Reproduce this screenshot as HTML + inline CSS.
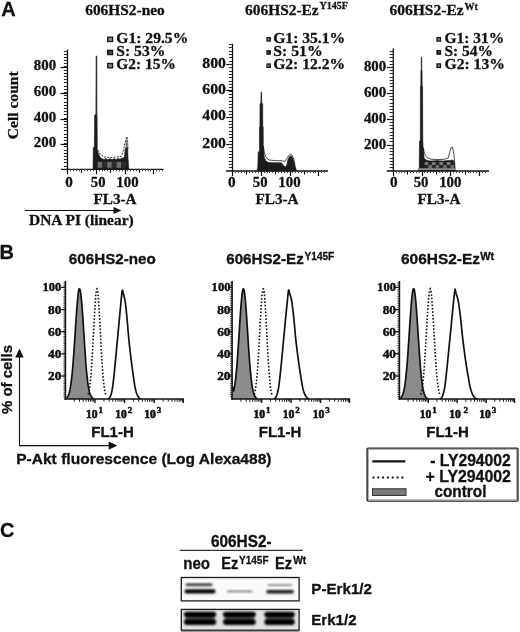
<!DOCTYPE html>
<html><head><meta charset="utf-8"><title>Figure</title>
<style>
html,body{margin:0;padding:0;background:#fff;}
svg{display:block;}
.se{font-family:"Liberation Serif", serif;font-weight:bold;fill:#111;stroke:#111;stroke-width:0.3px;}
.sa{font-family:"Liberation Sans", sans-serif;font-weight:bold;fill:#111;stroke:#111;stroke-width:0.3px;}
</style></head>
<body>
<svg width="520" height="632" viewBox="0 0 520 632">
<defs><filter id="bl" x="-10%" y="-50%" width="120%" height="200%"><feGaussianBlur stdDeviation="0.8"/></filter><filter id="bl2" x="-10%" y="-50%" width="120%" height="200%"><feGaussianBlur stdDeviation="1.2"/></filter></defs>
<rect x="0" y="0" width="520" height="632" fill="#ffffff"/>
<text class="sa" x="1.2" y="16.2" font-size="20">A</text>
<text class="sa" x="-0.6" y="259.4" font-size="20">B</text>
<text class="sa" x="0" y="536.5" font-size="20">C</text>
<line x1="67.5" y1="49.5" x2="67.5" y2="169.3" stroke="#111" stroke-width="1.3"/>
<line x1="61.0" y1="169.3" x2="163.5" y2="169.3" stroke="#111" stroke-width="1.3"/>
<line x1="60.5" y1="67.5" x2="67.5" y2="67.5" stroke="#111" stroke-width="1.2"/>
<text class="se" x="56.1" y="69.8" font-size="15.5" text-anchor="end" textLength="22.3" lengthAdjust="spacingAndGlyphs">800</text>
<line x1="60.5" y1="93.5" x2="67.5" y2="93.5" stroke="#111" stroke-width="1.2"/>
<text class="se" x="56.1" y="95.8" font-size="15.5" text-anchor="end" textLength="22.3" lengthAdjust="spacingAndGlyphs">600</text>
<line x1="60.5" y1="119.5" x2="67.5" y2="119.5" stroke="#111" stroke-width="1.2"/>
<text class="se" x="56.1" y="121.8" font-size="15.5" text-anchor="end" textLength="22.3" lengthAdjust="spacingAndGlyphs">400</text>
<line x1="60.5" y1="144.5" x2="67.5" y2="144.5" stroke="#111" stroke-width="1.2"/>
<text class="se" x="56.1" y="147.3" font-size="15.5" text-anchor="end" textLength="22.3" lengthAdjust="spacingAndGlyphs">200</text>
<line x1="63.9" y1="166.5" x2="67.5" y2="166.5" stroke="#2a2a2a" stroke-width="1"/>
<line x1="63.9" y1="162.5" x2="67.5" y2="162.5" stroke="#2a2a2a" stroke-width="1"/>
<line x1="63.9" y1="159.5" x2="67.5" y2="159.5" stroke="#2a2a2a" stroke-width="1"/>
<line x1="63.9" y1="156.5" x2="67.5" y2="156.5" stroke="#2a2a2a" stroke-width="1"/>
<line x1="63.9" y1="153.5" x2="67.5" y2="153.5" stroke="#2a2a2a" stroke-width="1"/>
<line x1="63.9" y1="150.5" x2="67.5" y2="150.5" stroke="#2a2a2a" stroke-width="1"/>
<line x1="63.9" y1="146.5" x2="67.5" y2="146.5" stroke="#2a2a2a" stroke-width="1"/>
<line x1="63.9" y1="143.5" x2="67.5" y2="143.5" stroke="#2a2a2a" stroke-width="1"/>
<line x1="63.9" y1="140.5" x2="67.5" y2="140.5" stroke="#2a2a2a" stroke-width="1"/>
<line x1="63.9" y1="137.5" x2="67.5" y2="137.5" stroke="#2a2a2a" stroke-width="1"/>
<line x1="63.9" y1="134.5" x2="67.5" y2="134.5" stroke="#2a2a2a" stroke-width="1"/>
<line x1="63.9" y1="130.5" x2="67.5" y2="130.5" stroke="#2a2a2a" stroke-width="1"/>
<line x1="63.9" y1="127.5" x2="67.5" y2="127.5" stroke="#2a2a2a" stroke-width="1"/>
<line x1="63.9" y1="124.5" x2="67.5" y2="124.5" stroke="#2a2a2a" stroke-width="1"/>
<line x1="63.9" y1="121.5" x2="67.5" y2="121.5" stroke="#2a2a2a" stroke-width="1"/>
<line x1="63.9" y1="118.5" x2="67.5" y2="118.5" stroke="#2a2a2a" stroke-width="1"/>
<line x1="63.9" y1="114.5" x2="67.5" y2="114.5" stroke="#2a2a2a" stroke-width="1"/>
<line x1="63.9" y1="111.5" x2="67.5" y2="111.5" stroke="#2a2a2a" stroke-width="1"/>
<line x1="63.9" y1="108.5" x2="67.5" y2="108.5" stroke="#2a2a2a" stroke-width="1"/>
<line x1="63.9" y1="105.5" x2="67.5" y2="105.5" stroke="#2a2a2a" stroke-width="1"/>
<line x1="63.9" y1="102.5" x2="67.5" y2="102.5" stroke="#2a2a2a" stroke-width="1"/>
<line x1="63.9" y1="98.5" x2="67.5" y2="98.5" stroke="#2a2a2a" stroke-width="1"/>
<line x1="63.9" y1="95.5" x2="67.5" y2="95.5" stroke="#2a2a2a" stroke-width="1"/>
<line x1="63.9" y1="92.5" x2="67.5" y2="92.5" stroke="#2a2a2a" stroke-width="1"/>
<line x1="63.9" y1="89.5" x2="67.5" y2="89.5" stroke="#2a2a2a" stroke-width="1"/>
<line x1="63.9" y1="86.5" x2="67.5" y2="86.5" stroke="#2a2a2a" stroke-width="1"/>
<line x1="63.9" y1="82.5" x2="67.5" y2="82.5" stroke="#2a2a2a" stroke-width="1"/>
<line x1="63.9" y1="79.5" x2="67.5" y2="79.5" stroke="#2a2a2a" stroke-width="1"/>
<line x1="63.9" y1="76.5" x2="67.5" y2="76.5" stroke="#2a2a2a" stroke-width="1"/>
<line x1="63.9" y1="73.5" x2="67.5" y2="73.5" stroke="#2a2a2a" stroke-width="1"/>
<line x1="63.9" y1="70.5" x2="67.5" y2="70.5" stroke="#2a2a2a" stroke-width="1"/>
<line x1="63.9" y1="66.5" x2="67.5" y2="66.5" stroke="#2a2a2a" stroke-width="1"/>
<line x1="63.9" y1="63.5" x2="67.5" y2="63.5" stroke="#2a2a2a" stroke-width="1"/>
<line x1="63.9" y1="60.5" x2="67.5" y2="60.5" stroke="#2a2a2a" stroke-width="1"/>
<line x1="63.9" y1="57.5" x2="67.5" y2="57.5" stroke="#2a2a2a" stroke-width="1"/>
<line x1="63.9" y1="54.5" x2="67.5" y2="54.5" stroke="#2a2a2a" stroke-width="1"/>
<line x1="63.9" y1="51.5" x2="67.5" y2="51.5" stroke="#2a2a2a" stroke-width="1"/>
<line x1="67.5" y1="169.3" x2="67.5" y2="174.3" stroke="#111" stroke-width="1.2"/>
<line x1="70.5" y1="169.3" x2="70.5" y2="171.3" stroke="#4a4a4a" stroke-width="1"/>
<line x1="73.5" y1="169.3" x2="73.5" y2="171.3" stroke="#4a4a4a" stroke-width="1"/>
<line x1="76.5" y1="169.3" x2="76.5" y2="171.3" stroke="#4a4a4a" stroke-width="1"/>
<line x1="79.5" y1="169.3" x2="79.5" y2="171.3" stroke="#4a4a4a" stroke-width="1"/>
<line x1="81.5" y1="169.3" x2="81.5" y2="172.9" stroke="#111" stroke-width="1.1"/>
<line x1="84.5" y1="169.3" x2="84.5" y2="171.3" stroke="#4a4a4a" stroke-width="1"/>
<line x1="87.5" y1="169.3" x2="87.5" y2="171.3" stroke="#4a4a4a" stroke-width="1"/>
<line x1="90.5" y1="169.3" x2="90.5" y2="171.3" stroke="#4a4a4a" stroke-width="1"/>
<line x1="93.5" y1="169.3" x2="93.5" y2="171.3" stroke="#4a4a4a" stroke-width="1"/>
<line x1="96.5" y1="169.3" x2="96.5" y2="174.3" stroke="#111" stroke-width="1.2"/>
<line x1="99.5" y1="169.3" x2="99.5" y2="171.3" stroke="#4a4a4a" stroke-width="1"/>
<line x1="102.5" y1="169.3" x2="102.5" y2="171.3" stroke="#4a4a4a" stroke-width="1"/>
<line x1="104.5" y1="169.3" x2="104.5" y2="171.3" stroke="#4a4a4a" stroke-width="1"/>
<line x1="107.5" y1="169.3" x2="107.5" y2="171.3" stroke="#4a4a4a" stroke-width="1"/>
<line x1="110.5" y1="169.3" x2="110.5" y2="172.9" stroke="#111" stroke-width="1.1"/>
<line x1="113.5" y1="169.3" x2="113.5" y2="171.3" stroke="#4a4a4a" stroke-width="1"/>
<line x1="116.5" y1="169.3" x2="116.5" y2="171.3" stroke="#4a4a4a" stroke-width="1"/>
<line x1="119.5" y1="169.3" x2="119.5" y2="171.3" stroke="#4a4a4a" stroke-width="1"/>
<line x1="122.5" y1="169.3" x2="122.5" y2="171.3" stroke="#4a4a4a" stroke-width="1"/>
<line x1="125.5" y1="169.3" x2="125.5" y2="174.3" stroke="#111" stroke-width="1.2"/>
<line x1="127.5" y1="169.3" x2="127.5" y2="171.3" stroke="#4a4a4a" stroke-width="1"/>
<line x1="130.5" y1="169.3" x2="130.5" y2="171.3" stroke="#4a4a4a" stroke-width="1"/>
<line x1="133.5" y1="169.3" x2="133.5" y2="171.3" stroke="#4a4a4a" stroke-width="1"/>
<line x1="136.5" y1="169.3" x2="136.5" y2="171.3" stroke="#4a4a4a" stroke-width="1"/>
<line x1="139.5" y1="169.3" x2="139.5" y2="172.9" stroke="#111" stroke-width="1.1"/>
<line x1="142.5" y1="169.3" x2="142.5" y2="171.3" stroke="#4a4a4a" stroke-width="1"/>
<line x1="145.5" y1="169.3" x2="145.5" y2="171.3" stroke="#4a4a4a" stroke-width="1"/>
<line x1="148.5" y1="169.3" x2="148.5" y2="171.3" stroke="#4a4a4a" stroke-width="1"/>
<line x1="150.5" y1="169.3" x2="150.5" y2="171.3" stroke="#4a4a4a" stroke-width="1"/>
<line x1="153.5" y1="169.3" x2="153.5" y2="174.3" stroke="#111" stroke-width="1.2"/>
<line x1="156.5" y1="169.3" x2="156.5" y2="171.3" stroke="#4a4a4a" stroke-width="1"/>
<line x1="159.5" y1="169.3" x2="159.5" y2="171.3" stroke="#4a4a4a" stroke-width="1"/>
<line x1="162.5" y1="169.3" x2="162.5" y2="171.3" stroke="#4a4a4a" stroke-width="1"/>
<text class="se" x="69.0" y="187.3" font-size="15.5" text-anchor="middle" textLength="7.6" lengthAdjust="spacingAndGlyphs">0</text>
<text class="se" x="98.15" y="187.3" font-size="15.5" text-anchor="middle" textLength="14.7" lengthAdjust="spacingAndGlyphs">50</text>
<text class="se" x="127.5" y="187.3" font-size="15.5" text-anchor="middle" textLength="22.3" lengthAdjust="spacingAndGlyphs">100</text>
<text class="se" x="93.5" y="204.1" font-size="15.5" textLength="43" lengthAdjust="spacingAndGlyphs">FL3-A</text>
<line x1="232.5" y1="43.75" x2="232.5" y2="171" stroke="#111" stroke-width="1.3"/>
<line x1="226.0" y1="171" x2="328" y2="171" stroke="#111" stroke-width="1.3"/>
<line x1="226.2" y1="64.5" x2="232.5" y2="64.5" stroke="#111" stroke-width="1.2"/>
<text class="se" x="226.0" y="67.9" font-size="15.5" text-anchor="end" textLength="23.7" lengthAdjust="spacingAndGlyphs">800</text>
<line x1="226.2" y1="90.5" x2="232.5" y2="90.5" stroke="#111" stroke-width="1.2"/>
<text class="se" x="226.0" y="93.9" font-size="15.5" text-anchor="end" textLength="23.7" lengthAdjust="spacingAndGlyphs">600</text>
<line x1="226.2" y1="117.5" x2="232.5" y2="117.5" stroke="#111" stroke-width="1.2"/>
<text class="se" x="226.0" y="120.4" font-size="15.5" text-anchor="end" textLength="23.7" lengthAdjust="spacingAndGlyphs">400</text>
<line x1="226.2" y1="144.5" x2="232.5" y2="144.5" stroke="#111" stroke-width="1.2"/>
<text class="se" x="226.0" y="147.9" font-size="15.5" text-anchor="end" textLength="23.7" lengthAdjust="spacingAndGlyphs">200</text>
<line x1="228.9" y1="167.5" x2="232.5" y2="167.5" stroke="#2a2a2a" stroke-width="1"/>
<line x1="228.9" y1="164.5" x2="232.5" y2="164.5" stroke="#2a2a2a" stroke-width="1"/>
<line x1="228.9" y1="161.5" x2="232.5" y2="161.5" stroke="#2a2a2a" stroke-width="1"/>
<line x1="228.9" y1="157.5" x2="232.5" y2="157.5" stroke="#2a2a2a" stroke-width="1"/>
<line x1="228.9" y1="154.5" x2="232.5" y2="154.5" stroke="#2a2a2a" stroke-width="1"/>
<line x1="228.9" y1="151.5" x2="232.5" y2="151.5" stroke="#2a2a2a" stroke-width="1"/>
<line x1="228.9" y1="147.5" x2="232.5" y2="147.5" stroke="#2a2a2a" stroke-width="1"/>
<line x1="228.9" y1="144.5" x2="232.5" y2="144.5" stroke="#2a2a2a" stroke-width="1"/>
<line x1="228.9" y1="141.5" x2="232.5" y2="141.5" stroke="#2a2a2a" stroke-width="1"/>
<line x1="228.9" y1="137.5" x2="232.5" y2="137.5" stroke="#2a2a2a" stroke-width="1"/>
<line x1="228.9" y1="134.5" x2="232.5" y2="134.5" stroke="#2a2a2a" stroke-width="1"/>
<line x1="228.9" y1="131.5" x2="232.5" y2="131.5" stroke="#2a2a2a" stroke-width="1"/>
<line x1="228.9" y1="127.5" x2="232.5" y2="127.5" stroke="#2a2a2a" stroke-width="1"/>
<line x1="228.9" y1="124.5" x2="232.5" y2="124.5" stroke="#2a2a2a" stroke-width="1"/>
<line x1="228.9" y1="121.5" x2="232.5" y2="121.5" stroke="#2a2a2a" stroke-width="1"/>
<line x1="228.9" y1="117.5" x2="232.5" y2="117.5" stroke="#2a2a2a" stroke-width="1"/>
<line x1="228.9" y1="114.5" x2="232.5" y2="114.5" stroke="#2a2a2a" stroke-width="1"/>
<line x1="228.9" y1="111.5" x2="232.5" y2="111.5" stroke="#2a2a2a" stroke-width="1"/>
<line x1="228.9" y1="107.5" x2="232.5" y2="107.5" stroke="#2a2a2a" stroke-width="1"/>
<line x1="228.9" y1="104.5" x2="232.5" y2="104.5" stroke="#2a2a2a" stroke-width="1"/>
<line x1="228.9" y1="101.5" x2="232.5" y2="101.5" stroke="#2a2a2a" stroke-width="1"/>
<line x1="228.9" y1="97.5" x2="232.5" y2="97.5" stroke="#2a2a2a" stroke-width="1"/>
<line x1="228.9" y1="94.5" x2="232.5" y2="94.5" stroke="#2a2a2a" stroke-width="1"/>
<line x1="228.9" y1="91.5" x2="232.5" y2="91.5" stroke="#2a2a2a" stroke-width="1"/>
<line x1="228.9" y1="87.5" x2="232.5" y2="87.5" stroke="#2a2a2a" stroke-width="1"/>
<line x1="228.9" y1="84.5" x2="232.5" y2="84.5" stroke="#2a2a2a" stroke-width="1"/>
<line x1="228.9" y1="81.5" x2="232.5" y2="81.5" stroke="#2a2a2a" stroke-width="1"/>
<line x1="228.9" y1="77.5" x2="232.5" y2="77.5" stroke="#2a2a2a" stroke-width="1"/>
<line x1="228.9" y1="74.5" x2="232.5" y2="74.5" stroke="#2a2a2a" stroke-width="1"/>
<line x1="228.9" y1="71.5" x2="232.5" y2="71.5" stroke="#2a2a2a" stroke-width="1"/>
<line x1="228.9" y1="67.5" x2="232.5" y2="67.5" stroke="#2a2a2a" stroke-width="1"/>
<line x1="228.9" y1="64.5" x2="232.5" y2="64.5" stroke="#2a2a2a" stroke-width="1"/>
<line x1="228.9" y1="61.5" x2="232.5" y2="61.5" stroke="#2a2a2a" stroke-width="1"/>
<line x1="228.9" y1="57.5" x2="232.5" y2="57.5" stroke="#2a2a2a" stroke-width="1"/>
<line x1="228.9" y1="54.5" x2="232.5" y2="54.5" stroke="#2a2a2a" stroke-width="1"/>
<line x1="228.9" y1="51.5" x2="232.5" y2="51.5" stroke="#2a2a2a" stroke-width="1"/>
<line x1="228.9" y1="47.5" x2="232.5" y2="47.5" stroke="#2a2a2a" stroke-width="1"/>
<line x1="228.9" y1="44.5" x2="232.5" y2="44.5" stroke="#2a2a2a" stroke-width="1"/>
<line x1="232.5" y1="171" x2="232.5" y2="176" stroke="#111" stroke-width="1.2"/>
<line x1="235.5" y1="171" x2="235.5" y2="173.0" stroke="#4a4a4a" stroke-width="1"/>
<line x1="238.5" y1="171" x2="238.5" y2="173.0" stroke="#4a4a4a" stroke-width="1"/>
<line x1="241.5" y1="171" x2="241.5" y2="173.0" stroke="#4a4a4a" stroke-width="1"/>
<line x1="244.5" y1="171" x2="244.5" y2="173.0" stroke="#4a4a4a" stroke-width="1"/>
<line x1="246.5" y1="171" x2="246.5" y2="174.6" stroke="#111" stroke-width="1.1"/>
<line x1="249.5" y1="171" x2="249.5" y2="173.0" stroke="#4a4a4a" stroke-width="1"/>
<line x1="252.5" y1="171" x2="252.5" y2="173.0" stroke="#4a4a4a" stroke-width="1"/>
<line x1="255.5" y1="171" x2="255.5" y2="173.0" stroke="#4a4a4a" stroke-width="1"/>
<line x1="258.5" y1="171" x2="258.5" y2="173.0" stroke="#4a4a4a" stroke-width="1"/>
<line x1="261.5" y1="171" x2="261.5" y2="176" stroke="#111" stroke-width="1.2"/>
<line x1="264.5" y1="171" x2="264.5" y2="173.0" stroke="#4a4a4a" stroke-width="1"/>
<line x1="267.5" y1="171" x2="267.5" y2="173.0" stroke="#4a4a4a" stroke-width="1"/>
<line x1="269.5" y1="171" x2="269.5" y2="173.0" stroke="#4a4a4a" stroke-width="1"/>
<line x1="272.5" y1="171" x2="272.5" y2="173.0" stroke="#4a4a4a" stroke-width="1"/>
<line x1="275.5" y1="171" x2="275.5" y2="174.6" stroke="#111" stroke-width="1.1"/>
<line x1="278.5" y1="171" x2="278.5" y2="173.0" stroke="#4a4a4a" stroke-width="1"/>
<line x1="281.5" y1="171" x2="281.5" y2="173.0" stroke="#4a4a4a" stroke-width="1"/>
<line x1="284.5" y1="171" x2="284.5" y2="173.0" stroke="#4a4a4a" stroke-width="1"/>
<line x1="287.5" y1="171" x2="287.5" y2="173.0" stroke="#4a4a4a" stroke-width="1"/>
<line x1="290.5" y1="171" x2="290.5" y2="176" stroke="#111" stroke-width="1.2"/>
<line x1="292.5" y1="171" x2="292.5" y2="173.0" stroke="#4a4a4a" stroke-width="1"/>
<line x1="295.5" y1="171" x2="295.5" y2="173.0" stroke="#4a4a4a" stroke-width="1"/>
<line x1="298.5" y1="171" x2="298.5" y2="173.0" stroke="#4a4a4a" stroke-width="1"/>
<line x1="301.5" y1="171" x2="301.5" y2="173.0" stroke="#4a4a4a" stroke-width="1"/>
<line x1="304.5" y1="171" x2="304.5" y2="174.6" stroke="#111" stroke-width="1.1"/>
<line x1="307.5" y1="171" x2="307.5" y2="173.0" stroke="#4a4a4a" stroke-width="1"/>
<line x1="310.5" y1="171" x2="310.5" y2="173.0" stroke="#4a4a4a" stroke-width="1"/>
<line x1="313.5" y1="171" x2="313.5" y2="173.0" stroke="#4a4a4a" stroke-width="1"/>
<line x1="315.5" y1="171" x2="315.5" y2="173.0" stroke="#4a4a4a" stroke-width="1"/>
<line x1="318.5" y1="171" x2="318.5" y2="176" stroke="#111" stroke-width="1.2"/>
<line x1="321.5" y1="171" x2="321.5" y2="173.0" stroke="#4a4a4a" stroke-width="1"/>
<line x1="324.5" y1="171" x2="324.5" y2="173.0" stroke="#4a4a4a" stroke-width="1"/>
<text class="se" x="231.9" y="187.3" font-size="15.5" text-anchor="middle" textLength="7.6" lengthAdjust="spacingAndGlyphs">0</text>
<text class="se" x="260.15" y="187.3" font-size="15.5" text-anchor="middle" textLength="14.7" lengthAdjust="spacingAndGlyphs">50</text>
<text class="se" x="289.5" y="187.3" font-size="15.5" text-anchor="middle" textLength="22.3" lengthAdjust="spacingAndGlyphs">100</text>
<text class="se" x="255.5" y="204.1" font-size="15.5" textLength="43" lengthAdjust="spacingAndGlyphs">FL3-A</text>
<line x1="393.25" y1="48.5" x2="393.25" y2="171" stroke="#111" stroke-width="1.3"/>
<line x1="386.75" y1="171" x2="489" y2="171" stroke="#111" stroke-width="1.3"/>
<line x1="386.95" y1="67.5" x2="393.25" y2="67.5" stroke="#111" stroke-width="1.2"/>
<text class="se" x="386.25" y="71.1" font-size="15.5" text-anchor="end" textLength="22.3" lengthAdjust="spacingAndGlyphs">800</text>
<line x1="386.95" y1="93.5" x2="393.25" y2="93.5" stroke="#111" stroke-width="1.2"/>
<text class="se" x="386.25" y="97.35" font-size="15.5" text-anchor="end" textLength="22.3" lengthAdjust="spacingAndGlyphs">600</text>
<line x1="386.95" y1="119.5" x2="393.25" y2="119.5" stroke="#111" stroke-width="1.2"/>
<text class="se" x="386.25" y="123.0" font-size="15.5" text-anchor="end" textLength="22.3" lengthAdjust="spacingAndGlyphs">400</text>
<line x1="386.95" y1="145.5" x2="393.25" y2="145.5" stroke="#111" stroke-width="1.2"/>
<text class="se" x="386.25" y="149.1" font-size="15.5" text-anchor="end" textLength="22.3" lengthAdjust="spacingAndGlyphs">200</text>
<line x1="389.65" y1="167.5" x2="393.25" y2="167.5" stroke="#2a2a2a" stroke-width="1"/>
<line x1="389.65" y1="164.5" x2="393.25" y2="164.5" stroke="#2a2a2a" stroke-width="1"/>
<line x1="389.65" y1="161.5" x2="393.25" y2="161.5" stroke="#2a2a2a" stroke-width="1"/>
<line x1="389.65" y1="158.5" x2="393.25" y2="158.5" stroke="#2a2a2a" stroke-width="1"/>
<line x1="389.65" y1="154.5" x2="393.25" y2="154.5" stroke="#2a2a2a" stroke-width="1"/>
<line x1="389.65" y1="151.5" x2="393.25" y2="151.5" stroke="#2a2a2a" stroke-width="1"/>
<line x1="389.65" y1="148.5" x2="393.25" y2="148.5" stroke="#2a2a2a" stroke-width="1"/>
<line x1="389.65" y1="145.5" x2="393.25" y2="145.5" stroke="#2a2a2a" stroke-width="1"/>
<line x1="389.65" y1="141.5" x2="393.25" y2="141.5" stroke="#2a2a2a" stroke-width="1"/>
<line x1="389.65" y1="138.5" x2="393.25" y2="138.5" stroke="#2a2a2a" stroke-width="1"/>
<line x1="389.65" y1="135.5" x2="393.25" y2="135.5" stroke="#2a2a2a" stroke-width="1"/>
<line x1="389.65" y1="132.5" x2="393.25" y2="132.5" stroke="#2a2a2a" stroke-width="1"/>
<line x1="389.65" y1="128.5" x2="393.25" y2="128.5" stroke="#2a2a2a" stroke-width="1"/>
<line x1="389.65" y1="125.5" x2="393.25" y2="125.5" stroke="#2a2a2a" stroke-width="1"/>
<line x1="389.65" y1="122.5" x2="393.25" y2="122.5" stroke="#2a2a2a" stroke-width="1"/>
<line x1="389.65" y1="119.5" x2="393.25" y2="119.5" stroke="#2a2a2a" stroke-width="1"/>
<line x1="389.65" y1="116.5" x2="393.25" y2="116.5" stroke="#2a2a2a" stroke-width="1"/>
<line x1="389.65" y1="112.5" x2="393.25" y2="112.5" stroke="#2a2a2a" stroke-width="1"/>
<line x1="389.65" y1="109.5" x2="393.25" y2="109.5" stroke="#2a2a2a" stroke-width="1"/>
<line x1="389.65" y1="106.5" x2="393.25" y2="106.5" stroke="#2a2a2a" stroke-width="1"/>
<line x1="389.65" y1="103.5" x2="393.25" y2="103.5" stroke="#2a2a2a" stroke-width="1"/>
<line x1="389.65" y1="99.5" x2="393.25" y2="99.5" stroke="#2a2a2a" stroke-width="1"/>
<line x1="389.65" y1="96.5" x2="393.25" y2="96.5" stroke="#2a2a2a" stroke-width="1"/>
<line x1="389.65" y1="93.5" x2="393.25" y2="93.5" stroke="#2a2a2a" stroke-width="1"/>
<line x1="389.65" y1="90.5" x2="393.25" y2="90.5" stroke="#2a2a2a" stroke-width="1"/>
<line x1="389.65" y1="86.5" x2="393.25" y2="86.5" stroke="#2a2a2a" stroke-width="1"/>
<line x1="389.65" y1="83.5" x2="393.25" y2="83.5" stroke="#2a2a2a" stroke-width="1"/>
<line x1="389.65" y1="80.5" x2="393.25" y2="80.5" stroke="#2a2a2a" stroke-width="1"/>
<line x1="389.65" y1="77.5" x2="393.25" y2="77.5" stroke="#2a2a2a" stroke-width="1"/>
<line x1="389.65" y1="73.5" x2="393.25" y2="73.5" stroke="#2a2a2a" stroke-width="1"/>
<line x1="389.65" y1="70.5" x2="393.25" y2="70.5" stroke="#2a2a2a" stroke-width="1"/>
<line x1="389.65" y1="67.5" x2="393.25" y2="67.5" stroke="#2a2a2a" stroke-width="1"/>
<line x1="389.65" y1="64.5" x2="393.25" y2="64.5" stroke="#2a2a2a" stroke-width="1"/>
<line x1="389.65" y1="61.5" x2="393.25" y2="61.5" stroke="#2a2a2a" stroke-width="1"/>
<line x1="389.65" y1="57.5" x2="393.25" y2="57.5" stroke="#2a2a2a" stroke-width="1"/>
<line x1="389.65" y1="54.5" x2="393.25" y2="54.5" stroke="#2a2a2a" stroke-width="1"/>
<line x1="389.65" y1="51.5" x2="393.25" y2="51.5" stroke="#2a2a2a" stroke-width="1"/>
<line x1="393.5" y1="171" x2="393.5" y2="176" stroke="#111" stroke-width="1.2"/>
<line x1="396.5" y1="171" x2="396.5" y2="173.0" stroke="#4a4a4a" stroke-width="1"/>
<line x1="399.5" y1="171" x2="399.5" y2="173.0" stroke="#4a4a4a" stroke-width="1"/>
<line x1="401.5" y1="171" x2="401.5" y2="173.0" stroke="#4a4a4a" stroke-width="1"/>
<line x1="404.5" y1="171" x2="404.5" y2="173.0" stroke="#4a4a4a" stroke-width="1"/>
<line x1="407.5" y1="171" x2="407.5" y2="174.6" stroke="#111" stroke-width="1.1"/>
<line x1="410.5" y1="171" x2="410.5" y2="173.0" stroke="#4a4a4a" stroke-width="1"/>
<line x1="413.5" y1="171" x2="413.5" y2="173.0" stroke="#4a4a4a" stroke-width="1"/>
<line x1="416.5" y1="171" x2="416.5" y2="173.0" stroke="#4a4a4a" stroke-width="1"/>
<line x1="419.5" y1="171" x2="419.5" y2="173.0" stroke="#4a4a4a" stroke-width="1"/>
<line x1="422.5" y1="171" x2="422.5" y2="176" stroke="#111" stroke-width="1.2"/>
<line x1="424.5" y1="171" x2="424.5" y2="173.0" stroke="#4a4a4a" stroke-width="1"/>
<line x1="427.5" y1="171" x2="427.5" y2="173.0" stroke="#4a4a4a" stroke-width="1"/>
<line x1="430.5" y1="171" x2="430.5" y2="173.0" stroke="#4a4a4a" stroke-width="1"/>
<line x1="433.5" y1="171" x2="433.5" y2="173.0" stroke="#4a4a4a" stroke-width="1"/>
<line x1="436.5" y1="171" x2="436.5" y2="174.6" stroke="#111" stroke-width="1.1"/>
<line x1="439.5" y1="171" x2="439.5" y2="173.0" stroke="#4a4a4a" stroke-width="1"/>
<line x1="442.5" y1="171" x2="442.5" y2="173.0" stroke="#4a4a4a" stroke-width="1"/>
<line x1="445.5" y1="171" x2="445.5" y2="173.0" stroke="#4a4a4a" stroke-width="1"/>
<line x1="447.5" y1="171" x2="447.5" y2="173.0" stroke="#4a4a4a" stroke-width="1"/>
<line x1="450.5" y1="171" x2="450.5" y2="176" stroke="#111" stroke-width="1.2"/>
<line x1="453.5" y1="171" x2="453.5" y2="173.0" stroke="#4a4a4a" stroke-width="1"/>
<line x1="456.5" y1="171" x2="456.5" y2="173.0" stroke="#4a4a4a" stroke-width="1"/>
<line x1="459.5" y1="171" x2="459.5" y2="173.0" stroke="#4a4a4a" stroke-width="1"/>
<line x1="462.5" y1="171" x2="462.5" y2="173.0" stroke="#4a4a4a" stroke-width="1"/>
<line x1="465.5" y1="171" x2="465.5" y2="174.6" stroke="#111" stroke-width="1.1"/>
<line x1="468.5" y1="171" x2="468.5" y2="173.0" stroke="#4a4a4a" stroke-width="1"/>
<line x1="470.5" y1="171" x2="470.5" y2="173.0" stroke="#4a4a4a" stroke-width="1"/>
<line x1="473.5" y1="171" x2="473.5" y2="173.0" stroke="#4a4a4a" stroke-width="1"/>
<line x1="476.5" y1="171" x2="476.5" y2="173.0" stroke="#4a4a4a" stroke-width="1"/>
<line x1="479.5" y1="171" x2="479.5" y2="176" stroke="#111" stroke-width="1.2"/>
<line x1="482.5" y1="171" x2="482.5" y2="173.0" stroke="#4a4a4a" stroke-width="1"/>
<line x1="485.5" y1="171" x2="485.5" y2="173.0" stroke="#4a4a4a" stroke-width="1"/>
<text class="se" x="393.85" y="187.3" font-size="15.5" text-anchor="middle" textLength="7.6" lengthAdjust="spacingAndGlyphs">0</text>
<text class="se" x="421.0" y="187.3" font-size="15.5" text-anchor="middle" textLength="14.7" lengthAdjust="spacingAndGlyphs">50</text>
<text class="se" x="450.35" y="187.3" font-size="15.5" text-anchor="middle" textLength="22.3" lengthAdjust="spacingAndGlyphs">100</text>
<text class="se" x="417.5" y="204.1" font-size="15.5" textLength="43" lengthAdjust="spacingAndGlyphs">FL3-A</text>
<path d="M98,150 L100,154 L104,157 L110,157.5 L116,157 L121,156.5 L123,152 L125,143 L126.8,136.5 L127.6,140 L128,150" fill="none" stroke="#222" stroke-width="1" stroke-dasharray="1.8,1.4"/>
<rect x="125.6" y="139.5" width="2.2" height="8" fill="#777"/>
<path d="M93,169.3 L93.3,147.5 L94.4,147 L94.6,115 L95.9,114 L96.1,56 L96.8,56 L96.9,114.8 L97.1,115.5 L97.3,150 L98.5,154 L100,157 L101.5,158.6 L104,159.4 L106,158.6 L108,159.7 L110,158.6 L112,159.7 L114,158.5 L116,159.5 L118,158.4 L120,159.2 L122,158.2 L124.3,157.6 L124.9,152 L125.3,148 L127.7,147.6 L128,158 L128.9,169.3Z" fill="#1c1c1c" stroke="#1c1c1c" stroke-width="0.6" stroke-linejoin="round"/>
<rect x="97.60" y="161.8" width="4.75" height="6.0" fill="#6e6e6e"/>
<rect x="102.35" y="161.8" width="4.75" height="6.0" fill="#2b2b2b"/>
<rect x="107.10" y="161.8" width="4.75" height="6.0" fill="#6e6e6e"/>
<rect x="111.85" y="161.8" width="4.75" height="6.0" fill="#2b2b2b"/>
<rect x="116.60" y="161.8" width="4.75" height="6.0" fill="#6e6e6e"/>
<rect x="121.35" y="161.8" width="4.75" height="6.0" fill="#2b2b2b"/>
<path d="M263.4,146 L264.2,152 L266,157.3 L269,160 L276,160.7 L282,160.7 L285,161.6 L287.2,158 L289.2,155 L290.5,154.2 L291.9,154.8 L293.4,158 L294.7,163 L294.7,169 L263.4,169Z" fill="#fff" stroke="#222" stroke-width="0.8"/>
<path d="M256.9,171 L257.8,167 L258.2,152 L259.5,151 L259.4,140 L259.5,127 L259.9,126 L260,104 L260.8,103 L261,92 L261.6,92 L261.8,103 L262.7,104 L262.8,126 L263.2,127 L263.3,146.5 L263.7,151 L264.3,157.5 L266,161.3 L269,162.6 L276,162.7 L281.5,162.7 L283,165 L285.3,167 L286.8,165 L287.8,160 L289.3,156.8 L290.5,155.8 L291.8,156.4 L293,159 L294.3,163.5 L295.5,167.5 L296.7,171Z" fill="#1c1c1c" stroke="#1c1c1c" stroke-width="0.6" stroke-linejoin="round"/>
<path d="M423.4,148 L424.5,153.8 L427,157.6 L431,159.2 L437,159.6 L444,159.3 L448.2,158.2 L449.8,152 L451.3,147.2 L452.4,147.2 L453.5,152 L454.4,158.5 L454.8,165 L454.8,169 L423.4,169Z" fill="#fff" stroke="#222" stroke-width="0.8"/>
<path d="M418.6,171 L419.2,168 L419.5,141 L420.3,140.5 L420.4,87 L420.8,86 L420.9,71 L421.2,70 L421.2,57.2 L421.7,57.2 L421.8,70 L422.1,71 L422.2,86 L422.6,87 L422.8,140 L423.4,153 L424.3,158.5 L427,160.4 L431,161 L437,160.6 L443,161 L448,160.6 L450,160.6 L452,160 L453.5,160.6 L454.4,163 L455.2,171Z" fill="#1c1c1c" stroke="#1c1c1c" stroke-width="0.6" stroke-linejoin="round"/>
<rect x="424.60" y="162" width="3.70" height="3.0999999999999943" fill="#7a7a7a"/>
<rect x="428.30" y="162" width="3.70" height="3.0999999999999943" fill="#2b2b2b"/>
<rect x="432.00" y="162" width="3.70" height="3.0999999999999943" fill="#7a7a7a"/>
<rect x="435.70" y="162" width="3.70" height="3.0999999999999943" fill="#2b2b2b"/>
<rect x="439.40" y="162" width="3.70" height="3.0999999999999943" fill="#7a7a7a"/>
<rect x="443.10" y="162" width="3.70" height="3.0999999999999943" fill="#2b2b2b"/>
<rect x="446.80" y="162" width="3.70" height="3.0999999999999943" fill="#7a7a7a"/>
<rect x="450.50" y="162" width="3.70" height="3.0999999999999943" fill="#2b2b2b"/>
<rect x="424.60" y="165.1" width="3.70" height="3.0999999999999943" fill="#2b2b2b"/>
<rect x="428.30" y="165.1" width="3.70" height="3.0999999999999943" fill="#6e6e6e"/>
<rect x="432.00" y="165.1" width="3.70" height="3.0999999999999943" fill="#2b2b2b"/>
<rect x="435.70" y="165.1" width="3.70" height="3.0999999999999943" fill="#6e6e6e"/>
<rect x="439.40" y="165.1" width="3.70" height="3.0999999999999943" fill="#2b2b2b"/>
<rect x="443.10" y="165.1" width="3.70" height="3.0999999999999943" fill="#6e6e6e"/>
<rect x="446.80" y="165.1" width="3.70" height="3.0999999999999943" fill="#2b2b2b"/>
<rect x="450.50" y="165.1" width="3.70" height="3.0999999999999943" fill="#6e6e6e"/>
<rect x="417.5" y="168.3" width="38.5" height="1.6" fill="#999"/>
<text class="se" x="85.2" y="14.5" font-size="15.5" textLength="79.6" lengthAdjust="spacingAndGlyphs">606HS2-neo</text>
<text class="se" x="245" y="14.5" font-size="15.5" textLength="73.7" lengthAdjust="spacingAndGlyphs">606HS2-Ez</text>
<text class="se" x="319.5" y="9" font-size="10.5" textLength="28.5" lengthAdjust="spacingAndGlyphs">Y145F</text>
<text class="se" x="389.6" y="14.5" font-size="15.5" textLength="74" lengthAdjust="spacingAndGlyphs">606HS2-Ez</text>
<text class="se" x="464.4" y="9.5" font-size="10.5" textLength="13.4" lengthAdjust="spacingAndGlyphs">Wt</text>
<rect x="107.7" y="37.2" width="4.9" height="4.3" fill="#8a8a8a" stroke="#151515" stroke-width="1.3"/>
<text class="se" x="116.3" y="43" font-size="15.5" textLength="72" lengthAdjust="spacingAndGlyphs">G1: 29.5%</text>
<rect x="107.7" y="50.3" width="4.9" height="4.3" fill="#444" stroke="#151515" stroke-width="1.3"/>
<text class="se" x="116.3" y="56" font-size="15.5" textLength="49" lengthAdjust="spacingAndGlyphs">S: 53%</text>
<rect x="107.7" y="63.5" width="4.9" height="4.3" fill="#808080" stroke="#151515" stroke-width="1.3"/>
<text class="se" x="116.3" y="69.3" font-size="15.5" textLength="59.5" lengthAdjust="spacingAndGlyphs">G2: 15%</text>
<rect x="267" y="37.7" width="3.3" height="3.3" fill="#8a8a8a" stroke="#151515" stroke-width="1.3"/>
<text class="se" x="273.2" y="43" font-size="15.5" textLength="72" lengthAdjust="spacingAndGlyphs">G1: 35.1%</text>
<rect x="267" y="50.8" width="3.3" height="3.3" fill="#444" stroke="#151515" stroke-width="1.3"/>
<text class="se" x="273.2" y="56" font-size="15.5" textLength="49.5" lengthAdjust="spacingAndGlyphs">S: 51%</text>
<rect x="267" y="64.0" width="3.3" height="3.3" fill="#808080" stroke="#151515" stroke-width="1.3"/>
<text class="se" x="273.2" y="69.3" font-size="15.5" textLength="71.8" lengthAdjust="spacingAndGlyphs">G2: 12.2%</text>
<rect x="437" y="37.6" width="3.5" height="3.5" fill="#8a8a8a" stroke="#151515" stroke-width="1.3"/>
<text class="se" x="444.5" y="43" font-size="15.5" textLength="59.6" lengthAdjust="spacingAndGlyphs">G1: 31%</text>
<rect x="437" y="50.699999999999996" width="3.5" height="3.5" fill="#444" stroke="#151515" stroke-width="1.3"/>
<text class="se" x="444.5" y="56" font-size="15.5" textLength="48.5" lengthAdjust="spacingAndGlyphs">S: 54%</text>
<rect x="437" y="63.9" width="3.5" height="3.5" fill="#808080" stroke="#151515" stroke-width="1.3"/>
<text class="se" x="444.5" y="69.3" font-size="15.5" textLength="60.4" lengthAdjust="spacingAndGlyphs">G2: 13%</text>
<text class="se" font-size="15.5" text-anchor="middle" textLength="68" lengthAdjust="spacingAndGlyphs" transform="translate(17.7,105.3) rotate(-90)">Cell count</text>
<line x1="25" y1="210.5" x2="114" y2="210.5" stroke="#111" stroke-width="1.2"/>
<path d="M113.5,206.9 L121.5,210.5 L113.5,214.1 Z" fill="#111"/>
<text class="se" x="29" y="225" font-size="15.5" textLength="104.7" lengthAdjust="spacingAndGlyphs">DNA PI (linear)</text>
<path d="M66.6,397.8 L67.1,397.3 L67.6,396.7 L68.1,395.8 L68.6,394.7 L69.1,393.3 L69.6,391.5 L70.1,389.2 L70.5,386.5 L71.0,383.2 L71.5,379.3 L72.0,374.8 L72.5,369.6 L73.0,363.8 L73.5,357.4 L74.0,350.5 L74.5,343.1 L75.0,335.5 L75.5,327.9 L76.0,320.3 L76.5,313.1 L77.0,306.4 L77.5,300.5 L78.0,295.7 L78.4,292.0 L78.9,289.6 L79.4,288.7 L79.9,289.3 L80.4,291.2 L80.9,294.6 L81.4,299.3 L81.9,305.0 L82.4,311.5 L82.9,318.7 L83.4,326.3 L83.9,334.1 L84.4,341.8 L84.9,349.3 L85.4,356.3 L85.8,362.9 L86.3,368.9 L86.8,374.2 L87.3,378.8 L87.8,382.8 L88.3,386.2 L88.8,389.0 L89.3,391.3 L89.8,393.2 L90.3,394.6 L90.8,395.8 L91.3,396.6 L91.8,397.3 L92.3,397.8 L92.8,398.2 L93.2,398.4 L93.2,399.0 L66.6,399.0Z" fill="#8c8c8c" stroke="none"/>
<path d="M66.6,397.8 L67.1,397.3 L67.6,396.7 L68.1,395.8 L68.6,394.7 L69.1,393.3 L69.6,391.5 L70.1,389.2 L70.5,386.5 L71.0,383.2 L71.5,379.3 L72.0,374.8 L72.5,369.6 L73.0,363.8 L73.5,357.4 L74.0,350.5 L74.5,343.1 L75.0,335.5 L75.5,327.9 L76.0,320.3 L76.5,313.1 L77.0,306.4 L77.5,300.5 L78.0,295.7 L78.4,292.0 L78.9,289.6 L79.4,288.7 L79.9,289.3 L80.4,291.2 L80.9,294.6 L81.4,299.3 L81.9,305.0 L82.4,311.5 L82.9,318.7 L83.4,326.3 L83.9,334.1 L84.4,341.8 L84.9,349.3 L85.4,356.3 L85.8,362.9 L86.3,368.9 L86.8,374.2 L87.3,378.8 L87.8,382.8 L88.3,386.2 L88.8,389.0 L89.3,391.3 L89.8,393.2 L90.3,394.6 L90.8,395.8 L91.3,396.6 L91.8,397.3 L92.3,397.8 L92.8,398.2 L93.2,398.4" fill="none" stroke="#111" stroke-width="1.7" stroke-linejoin="round"/>
<path d="M88.2,394.5 L88.7,392.6 L89.2,390.1 L89.7,386.9 L90.2,382.8 L90.7,377.8 L91.2,371.8 L91.7,364.8 L92.2,356.9 L92.7,348.2 L93.2,338.9 L93.7,329.4 L94.2,320.0 L94.7,311.1 L95.2,303.2 L95.6,296.7 L96.1,292.0 L96.6,289.3 L97.1,288.8 L97.6,290.6 L98.1,294.7 L98.6,300.7 L99.1,308.4 L99.6,317.2 L100.1,326.8 L100.6,336.6 L101.1,346.2 L101.6,355.2 L102.1,363.5 L102.6,370.8 L103.1,377.1 L103.6,382.4 L104.1,386.6 L104.6,390.0 L105.1,392.6 L105.6,394.5" fill="none" stroke="#111" stroke-width="1.6" stroke-dasharray="1.6,1.8"/>
<path d="M108.2,399.0 L108.7,398.7 L109.2,398.2 L109.7,397.5 L110.2,396.6 L110.7,395.4 L111.2,393.9 L111.7,392.0 L112.2,389.6 L112.7,386.6 L113.2,382.6 L113.7,378.1 L114.2,373.5 L114.7,368.5 L115.2,363.4 L115.7,358.1 L116.2,352.8 L116.7,347.4 L117.2,342.1 L117.7,336.8 L118.2,331.5 L118.7,326.1 L119.2,320.8 L119.7,315.4 L120.2,310.2 L120.7,304.9 L121.2,299.6 L121.7,294.7 L122.2,290.3 L122.7,290.5 L123.2,293.1 L123.7,295.0 L124.2,296.8 L124.7,298.8 L125.2,301.7 L125.7,305.7 L126.2,310.2 L126.7,315.0 L127.2,320.5 L127.7,326.2 L128.2,332.1 L128.7,337.7 L129.2,342.9 L129.7,347.5 L130.2,351.9 L130.7,356.1 L131.2,360.2 L131.7,364.1 L132.2,367.9 L132.7,371.6 L133.2,375.2 L133.7,378.7 L134.2,382.2 L134.7,385.5 L135.2,388.1 L135.7,390.2 L136.2,392.0 L136.7,393.5 L137.2,394.8 L137.7,395.9 L138.2,396.8 L138.7,397.4 L139.2,398.0 L139.7,398.5 L140.2,398.8 L140.7,399.0" fill="none" stroke="#111" stroke-width="1.7" stroke-linejoin="round"/>
<line x1="65.4" y1="281" x2="65.4" y2="399.8" stroke="#111" stroke-width="1.6"/>
<line x1="64.4" y1="399.0" x2="183.75" y2="399.0" stroke="#111" stroke-width="1.7"/>
<line x1="61.2" y1="287.4" x2="65.4" y2="287.4" stroke="#111" stroke-width="1.3"/>
<text class="se" x="61.300000000000004" y="291.4" font-size="13" text-anchor="end" textLength="18.9" lengthAdjust="spacingAndGlyphs" style="stroke-width:0.45px">100</text>
<line x1="61.2" y1="309.54999999999995" x2="65.4" y2="309.54999999999995" stroke="#111" stroke-width="1.3"/>
<text class="se" x="61.300000000000004" y="313.54999999999995" font-size="13" text-anchor="end" textLength="13.3" lengthAdjust="spacingAndGlyphs" style="stroke-width:0.45px">80</text>
<line x1="61.2" y1="331.7" x2="65.4" y2="331.7" stroke="#111" stroke-width="1.3"/>
<text class="se" x="61.300000000000004" y="335.7" font-size="13" text-anchor="end" textLength="13.3" lengthAdjust="spacingAndGlyphs" style="stroke-width:0.45px">60</text>
<line x1="61.2" y1="353.84999999999997" x2="65.4" y2="353.84999999999997" stroke="#111" stroke-width="1.3"/>
<text class="se" x="61.300000000000004" y="357.84999999999997" font-size="13" text-anchor="end" textLength="13.3" lengthAdjust="spacingAndGlyphs" style="stroke-width:0.45px">40</text>
<line x1="61.2" y1="376.0" x2="65.4" y2="376.0" stroke="#111" stroke-width="1.3"/>
<text class="se" x="61.300000000000004" y="380.0" font-size="13" text-anchor="end" textLength="13.3" lengthAdjust="spacingAndGlyphs" style="stroke-width:0.45px">20</text>
<line x1="63.400000000000006" y1="396.77" x2="65.4" y2="396.77" stroke="#222" stroke-width="0.9"/>
<line x1="63.400000000000006" y1="394.53999999999996" x2="65.4" y2="394.53999999999996" stroke="#222" stroke-width="0.9"/>
<line x1="63.400000000000006" y1="392.30999999999995" x2="65.4" y2="392.30999999999995" stroke="#222" stroke-width="0.9"/>
<line x1="63.400000000000006" y1="390.0799999999999" x2="65.4" y2="390.0799999999999" stroke="#222" stroke-width="0.9"/>
<line x1="63.400000000000006" y1="387.8499999999999" x2="65.4" y2="387.8499999999999" stroke="#222" stroke-width="0.9"/>
<line x1="63.400000000000006" y1="385.6199999999999" x2="65.4" y2="385.6199999999999" stroke="#222" stroke-width="0.9"/>
<line x1="63.400000000000006" y1="383.3899999999999" x2="65.4" y2="383.3899999999999" stroke="#222" stroke-width="0.9"/>
<line x1="63.400000000000006" y1="381.15999999999985" x2="65.4" y2="381.15999999999985" stroke="#222" stroke-width="0.9"/>
<line x1="63.400000000000006" y1="378.92999999999984" x2="65.4" y2="378.92999999999984" stroke="#222" stroke-width="0.9"/>
<line x1="63.400000000000006" y1="376.6999999999998" x2="65.4" y2="376.6999999999998" stroke="#222" stroke-width="0.9"/>
<line x1="63.400000000000006" y1="374.4699999999998" x2="65.4" y2="374.4699999999998" stroke="#222" stroke-width="0.9"/>
<line x1="63.400000000000006" y1="372.2399999999998" x2="65.4" y2="372.2399999999998" stroke="#222" stroke-width="0.9"/>
<line x1="63.400000000000006" y1="370.00999999999976" x2="65.4" y2="370.00999999999976" stroke="#222" stroke-width="0.9"/>
<line x1="63.400000000000006" y1="367.77999999999975" x2="65.4" y2="367.77999999999975" stroke="#222" stroke-width="0.9"/>
<line x1="63.400000000000006" y1="365.5499999999997" x2="65.4" y2="365.5499999999997" stroke="#222" stroke-width="0.9"/>
<line x1="63.400000000000006" y1="363.3199999999997" x2="65.4" y2="363.3199999999997" stroke="#222" stroke-width="0.9"/>
<line x1="63.400000000000006" y1="361.0899999999997" x2="65.4" y2="361.0899999999997" stroke="#222" stroke-width="0.9"/>
<line x1="63.400000000000006" y1="358.8599999999997" x2="65.4" y2="358.8599999999997" stroke="#222" stroke-width="0.9"/>
<line x1="63.400000000000006" y1="356.62999999999965" x2="65.4" y2="356.62999999999965" stroke="#222" stroke-width="0.9"/>
<line x1="63.400000000000006" y1="354.39999999999964" x2="65.4" y2="354.39999999999964" stroke="#222" stroke-width="0.9"/>
<line x1="63.400000000000006" y1="352.1699999999996" x2="65.4" y2="352.1699999999996" stroke="#222" stroke-width="0.9"/>
<line x1="63.400000000000006" y1="349.9399999999996" x2="65.4" y2="349.9399999999996" stroke="#222" stroke-width="0.9"/>
<line x1="63.400000000000006" y1="347.7099999999996" x2="65.4" y2="347.7099999999996" stroke="#222" stroke-width="0.9"/>
<line x1="63.400000000000006" y1="345.47999999999956" x2="65.4" y2="345.47999999999956" stroke="#222" stroke-width="0.9"/>
<line x1="63.400000000000006" y1="343.24999999999955" x2="65.4" y2="343.24999999999955" stroke="#222" stroke-width="0.9"/>
<line x1="63.400000000000006" y1="341.0199999999995" x2="65.4" y2="341.0199999999995" stroke="#222" stroke-width="0.9"/>
<line x1="63.400000000000006" y1="338.7899999999995" x2="65.4" y2="338.7899999999995" stroke="#222" stroke-width="0.9"/>
<line x1="63.400000000000006" y1="336.5599999999995" x2="65.4" y2="336.5599999999995" stroke="#222" stroke-width="0.9"/>
<line x1="63.400000000000006" y1="334.3299999999995" x2="65.4" y2="334.3299999999995" stroke="#222" stroke-width="0.9"/>
<line x1="63.400000000000006" y1="332.09999999999945" x2="65.4" y2="332.09999999999945" stroke="#222" stroke-width="0.9"/>
<line x1="63.400000000000006" y1="329.86999999999944" x2="65.4" y2="329.86999999999944" stroke="#222" stroke-width="0.9"/>
<line x1="63.400000000000006" y1="327.6399999999994" x2="65.4" y2="327.6399999999994" stroke="#222" stroke-width="0.9"/>
<line x1="63.400000000000006" y1="325.4099999999994" x2="65.4" y2="325.4099999999994" stroke="#222" stroke-width="0.9"/>
<line x1="63.400000000000006" y1="323.1799999999994" x2="65.4" y2="323.1799999999994" stroke="#222" stroke-width="0.9"/>
<line x1="63.400000000000006" y1="320.94999999999936" x2="65.4" y2="320.94999999999936" stroke="#222" stroke-width="0.9"/>
<line x1="63.400000000000006" y1="318.71999999999935" x2="65.4" y2="318.71999999999935" stroke="#222" stroke-width="0.9"/>
<line x1="63.400000000000006" y1="316.4899999999993" x2="65.4" y2="316.4899999999993" stroke="#222" stroke-width="0.9"/>
<line x1="63.400000000000006" y1="314.2599999999993" x2="65.4" y2="314.2599999999993" stroke="#222" stroke-width="0.9"/>
<line x1="63.400000000000006" y1="312.0299999999993" x2="65.4" y2="312.0299999999993" stroke="#222" stroke-width="0.9"/>
<line x1="63.400000000000006" y1="309.7999999999993" x2="65.4" y2="309.7999999999993" stroke="#222" stroke-width="0.9"/>
<line x1="63.400000000000006" y1="307.56999999999925" x2="65.4" y2="307.56999999999925" stroke="#222" stroke-width="0.9"/>
<line x1="63.400000000000006" y1="305.33999999999924" x2="65.4" y2="305.33999999999924" stroke="#222" stroke-width="0.9"/>
<line x1="63.400000000000006" y1="303.1099999999992" x2="65.4" y2="303.1099999999992" stroke="#222" stroke-width="0.9"/>
<line x1="63.400000000000006" y1="300.8799999999992" x2="65.4" y2="300.8799999999992" stroke="#222" stroke-width="0.9"/>
<line x1="63.400000000000006" y1="298.6499999999992" x2="65.4" y2="298.6499999999992" stroke="#222" stroke-width="0.9"/>
<line x1="63.400000000000006" y1="296.41999999999916" x2="65.4" y2="296.41999999999916" stroke="#222" stroke-width="0.9"/>
<line x1="63.400000000000006" y1="294.18999999999915" x2="65.4" y2="294.18999999999915" stroke="#222" stroke-width="0.9"/>
<line x1="63.400000000000006" y1="291.9599999999991" x2="65.4" y2="291.9599999999991" stroke="#222" stroke-width="0.9"/>
<line x1="63.400000000000006" y1="289.7299999999991" x2="65.4" y2="289.7299999999991" stroke="#222" stroke-width="0.9"/>
<line x1="63.400000000000006" y1="287.4999999999991" x2="65.4" y2="287.4999999999991" stroke="#222" stroke-width="0.9"/>
<line x1="63.400000000000006" y1="285.2699999999991" x2="65.4" y2="285.2699999999991" stroke="#222" stroke-width="0.9"/>
<line x1="63.400000000000006" y1="283.03999999999905" x2="65.4" y2="283.03999999999905" stroke="#222" stroke-width="0.9"/>
<line x1="74.30672499670806" y1="399.0" x2="74.30672499670806" y2="401.7" stroke="#1a1a1a" stroke-width="1"/>
<line x1="79.51682512401801" y1="399.0" x2="79.51682512401801" y2="401.7" stroke="#1a1a1a" stroke-width="1"/>
<line x1="83.21344999341609" y1="399.0" x2="83.21344999341609" y2="401.7" stroke="#1a1a1a" stroke-width="1"/>
<line x1="86.08077500329196" y1="399.0" x2="86.08077500329196" y2="401.7" stroke="#1a1a1a" stroke-width="1"/>
<line x1="88.42355012072606" y1="399.0" x2="88.42355012072606" y2="401.7" stroke="#1a1a1a" stroke-width="1"/>
<line x1="90.40433825892183" y1="399.0" x2="90.40433825892183" y2="401.7" stroke="#1a1a1a" stroke-width="1"/>
<line x1="92.12017499012413" y1="399.0" x2="92.12017499012413" y2="401.7" stroke="#1a1a1a" stroke-width="1"/>
<line x1="93.63365024803603" y1="399.0" x2="93.63365024803603" y2="401.7" stroke="#1a1a1a" stroke-width="1"/>
<line x1="94.98750000000001" y1="399.0" x2="94.98750000000001" y2="403.0" stroke="#111" stroke-width="1.4"/>
<line x1="103.89422499670805" y1="399.0" x2="103.89422499670805" y2="401.7" stroke="#1a1a1a" stroke-width="1"/>
<line x1="109.104325124018" y1="399.0" x2="109.104325124018" y2="401.7" stroke="#1a1a1a" stroke-width="1"/>
<line x1="112.8009499934161" y1="399.0" x2="112.8009499934161" y2="401.7" stroke="#1a1a1a" stroke-width="1"/>
<line x1="115.66827500329197" y1="399.0" x2="115.66827500329197" y2="401.7" stroke="#1a1a1a" stroke-width="1"/>
<line x1="118.01105012072605" y1="399.0" x2="118.01105012072605" y2="401.7" stroke="#1a1a1a" stroke-width="1"/>
<line x1="119.99183825892183" y1="399.0" x2="119.99183825892183" y2="401.7" stroke="#1a1a1a" stroke-width="1"/>
<line x1="121.70767499012413" y1="399.0" x2="121.70767499012413" y2="401.7" stroke="#1a1a1a" stroke-width="1"/>
<line x1="123.22115024803603" y1="399.0" x2="123.22115024803603" y2="401.7" stroke="#1a1a1a" stroke-width="1"/>
<line x1="124.575" y1="399.0" x2="124.575" y2="403.0" stroke="#111" stroke-width="1.4"/>
<line x1="133.48172499670807" y1="399.0" x2="133.48172499670807" y2="401.7" stroke="#1a1a1a" stroke-width="1"/>
<line x1="138.691825124018" y1="399.0" x2="138.691825124018" y2="401.7" stroke="#1a1a1a" stroke-width="1"/>
<line x1="142.3884499934161" y1="399.0" x2="142.3884499934161" y2="401.7" stroke="#1a1a1a" stroke-width="1"/>
<line x1="145.25577500329194" y1="399.0" x2="145.25577500329194" y2="401.7" stroke="#1a1a1a" stroke-width="1"/>
<line x1="147.59855012072606" y1="399.0" x2="147.59855012072606" y2="401.7" stroke="#1a1a1a" stroke-width="1"/>
<line x1="149.57933825892184" y1="399.0" x2="149.57933825892184" y2="401.7" stroke="#1a1a1a" stroke-width="1"/>
<line x1="151.29517499012414" y1="399.0" x2="151.29517499012414" y2="401.7" stroke="#1a1a1a" stroke-width="1"/>
<line x1="152.80865024803603" y1="399.0" x2="152.80865024803603" y2="401.7" stroke="#1a1a1a" stroke-width="1"/>
<line x1="154.1625" y1="399.0" x2="154.1625" y2="403.0" stroke="#111" stroke-width="1.4"/>
<line x1="163.06922499670804" y1="399.0" x2="163.06922499670804" y2="401.7" stroke="#1a1a1a" stroke-width="1"/>
<line x1="168.27932512401802" y1="399.0" x2="168.27932512401802" y2="401.7" stroke="#1a1a1a" stroke-width="1"/>
<line x1="171.9759499934161" y1="399.0" x2="171.9759499934161" y2="401.7" stroke="#1a1a1a" stroke-width="1"/>
<line x1="174.84327500329195" y1="399.0" x2="174.84327500329195" y2="401.7" stroke="#1a1a1a" stroke-width="1"/>
<line x1="177.18605012072607" y1="399.0" x2="177.18605012072607" y2="401.7" stroke="#1a1a1a" stroke-width="1"/>
<line x1="179.1668382589218" y1="399.0" x2="179.1668382589218" y2="401.7" stroke="#1a1a1a" stroke-width="1"/>
<line x1="180.88267499012414" y1="399.0" x2="180.88267499012414" y2="401.7" stroke="#1a1a1a" stroke-width="1"/>
<line x1="182.396150248036" y1="399.0" x2="182.396150248036" y2="401.7" stroke="#1a1a1a" stroke-width="1"/>
<line x1="183.25" y1="399.0" x2="183.25" y2="403.0" stroke="#111" stroke-width="1.4"/>
<text class="se" font-size="13" x="85.95" y="417.6" textLength="11.6" lengthAdjust="spacingAndGlyphs" style="stroke-width:0.65px">10</text>
<text class="se" font-size="9" x="98.55" y="413.4" style="stroke-width:0.5px">1</text>
<text class="se" font-size="13" x="115.2" y="417.6" textLength="11.6" lengthAdjust="spacingAndGlyphs" style="stroke-width:0.65px">10</text>
<text class="se" font-size="9" x="127.8" y="413.4" style="stroke-width:0.5px">2</text>
<text class="se" font-size="13" x="144.2" y="417.6" textLength="11.6" lengthAdjust="spacingAndGlyphs" style="stroke-width:0.65px">10</text>
<text class="se" font-size="9" x="156.8" y="413.4" style="stroke-width:0.5px">3</text>
<text class="sa" x="91.25" y="437" font-size="15.2" textLength="42.5" lengthAdjust="spacingAndGlyphs">FL1-H</text>
<path d="M233.0,386.5 L233.7,391.1 L234.2,388.7 L234.7,385.8 L235.2,382.3 L235.7,378.1 L236.2,373.3 L236.7,367.8 L237.2,361.6 L237.7,354.9 L238.2,347.6 L238.7,340.0 L239.2,332.1 L239.7,324.3 L240.2,316.7 L240.7,309.6 L241.2,303.1 L241.7,297.7 L242.2,293.4 L242.7,290.4 L243.1,288.9 L243.6,288.9 L244.1,290.4 L244.6,293.4 L245.1,297.7 L245.6,303.1 L246.1,309.6 L246.6,316.7 L247.1,324.3 L247.6,332.1 L248.1,340.0 L248.6,347.6 L249.1,354.9 L249.6,361.6 L250.1,367.8 L250.6,373.3 L251.1,378.1 L251.6,382.3 L252.1,385.8 L252.6,388.7 L253.1,391.1 L253.6,393.0 L254.1,394.5 L254.6,395.7 L255.1,396.6 L255.6,397.3 L256.1,397.8 L256.6,398.2 L257.1,398.4 L257.1,399.0 L233.0,399.0Z" fill="#8c8c8c" stroke="none"/>
<path d="M233.0,386.5 L233.7,391.1 L234.2,388.7 L234.7,385.8 L235.2,382.3 L235.7,378.1 L236.2,373.3 L236.7,367.8 L237.2,361.6 L237.7,354.9 L238.2,347.6 L238.7,340.0 L239.2,332.1 L239.7,324.3 L240.2,316.7 L240.7,309.6 L241.2,303.1 L241.7,297.7 L242.2,293.4 L242.7,290.4 L243.1,288.9 L243.6,288.9 L244.1,290.4 L244.6,293.4 L245.1,297.7 L245.6,303.1 L246.1,309.6 L246.6,316.7 L247.1,324.3 L247.6,332.1 L248.1,340.0 L248.6,347.6 L249.1,354.9 L249.6,361.6 L250.1,367.8 L250.6,373.3 L251.1,378.1 L251.6,382.3 L252.1,385.8 L252.6,388.7 L253.1,391.1 L253.6,393.0 L254.1,394.5 L254.6,395.7 L255.1,396.6 L255.6,397.3 L256.1,397.8 L256.6,398.2 L257.1,398.4" fill="none" stroke="#111" stroke-width="1.7" stroke-linejoin="round"/>
<path d="M254.3,394.5 L254.8,392.7 L255.2,390.4 L255.7,387.3 L256.2,383.5 L256.7,378.9 L257.2,373.3 L257.7,366.9 L258.2,359.5 L258.7,351.4 L259.2,342.6 L259.7,333.5 L260.1,324.4 L260.6,315.5 L261.1,307.4 L261.6,300.3 L262.1,294.7 L262.6,290.8 L263.1,288.9 L263.6,289.1 L264.1,291.5 L264.6,296.0 L265.0,302.3 L265.5,310.1 L266.0,319.0 L266.5,328.5 L267.0,338.1 L267.5,347.5 L268.0,356.3 L268.5,364.4 L269.0,371.5 L269.5,377.6 L269.9,382.7 L270.4,386.8 L270.9,390.1 L271.4,392.6 L271.9,394.5" fill="none" stroke="#111" stroke-width="1.6" stroke-dasharray="1.6,1.8"/>
<path d="M274.1,399.0 L274.6,398.7 L275.1,398.2 L275.6,397.6 L276.1,396.8 L276.6,395.6 L277.1,394.2 L277.6,392.5 L278.1,390.3 L278.6,387.6 L279.1,384.0 L279.6,379.8 L280.1,375.4 L280.6,370.8 L281.1,365.9 L281.6,360.8 L282.1,355.7 L282.6,350.5 L283.1,345.4 L283.5,340.3 L284.0,335.1 L284.5,330.0 L285.0,324.8 L285.5,319.6 L286.0,314.5 L286.5,309.4 L287.0,304.3 L287.5,299.2 L288.0,294.5 L288.5,290.2 L289.0,290.3 L289.5,292.7 L290.0,294.6 L290.5,296.1 L291.0,297.8 L291.5,300.0 L292.0,303.0 L292.5,306.8 L293.0,310.9 L293.5,315.3 L294.0,320.2 L294.5,325.4 L295.0,330.7 L295.4,335.9 L295.9,340.7 L296.4,345.0 L296.9,349.1 L297.4,353.0 L297.9,356.8 L298.4,360.5 L298.9,364.0 L299.4,367.4 L299.9,370.8 L300.4,374.0 L300.9,377.2 L301.4,380.4 L301.9,383.5 L302.4,386.3 L302.9,388.5 L303.4,390.4 L303.9,392.0 L304.4,393.4 L304.9,394.5 L305.4,395.5 L305.9,396.4 L306.4,397.1 L306.9,397.6 L307.4,398.1 L307.8,398.5 L308.3,398.8 L308.8,399.0" fill="none" stroke="#111" stroke-width="1.7" stroke-linejoin="round"/>
<line x1="232.1" y1="281" x2="232.1" y2="399.8" stroke="#111" stroke-width="1.6"/>
<line x1="231.1" y1="399.0" x2="350" y2="399.0" stroke="#111" stroke-width="1.7"/>
<line x1="227.9" y1="287.4" x2="232.1" y2="287.4" stroke="#111" stroke-width="1.3"/>
<text class="se" x="230.5" y="291.4" font-size="13" text-anchor="end" textLength="18.9" lengthAdjust="spacingAndGlyphs" style="stroke-width:0.45px">100</text>
<line x1="227.9" y1="309.54999999999995" x2="232.1" y2="309.54999999999995" stroke="#111" stroke-width="1.3"/>
<text class="se" x="230.5" y="313.54999999999995" font-size="13" text-anchor="end" textLength="13.3" lengthAdjust="spacingAndGlyphs" style="stroke-width:0.45px">80</text>
<line x1="227.9" y1="331.7" x2="232.1" y2="331.7" stroke="#111" stroke-width="1.3"/>
<text class="se" x="230.5" y="335.7" font-size="13" text-anchor="end" textLength="13.3" lengthAdjust="spacingAndGlyphs" style="stroke-width:0.45px">60</text>
<line x1="227.9" y1="353.84999999999997" x2="232.1" y2="353.84999999999997" stroke="#111" stroke-width="1.3"/>
<text class="se" x="230.5" y="357.84999999999997" font-size="13" text-anchor="end" textLength="13.3" lengthAdjust="spacingAndGlyphs" style="stroke-width:0.45px">40</text>
<line x1="227.9" y1="376.0" x2="232.1" y2="376.0" stroke="#111" stroke-width="1.3"/>
<text class="se" x="230.5" y="380.0" font-size="13" text-anchor="end" textLength="13.3" lengthAdjust="spacingAndGlyphs" style="stroke-width:0.45px">20</text>
<line x1="230.1" y1="396.77" x2="232.1" y2="396.77" stroke="#222" stroke-width="0.9"/>
<line x1="230.1" y1="394.53999999999996" x2="232.1" y2="394.53999999999996" stroke="#222" stroke-width="0.9"/>
<line x1="230.1" y1="392.30999999999995" x2="232.1" y2="392.30999999999995" stroke="#222" stroke-width="0.9"/>
<line x1="230.1" y1="390.0799999999999" x2="232.1" y2="390.0799999999999" stroke="#222" stroke-width="0.9"/>
<line x1="230.1" y1="387.8499999999999" x2="232.1" y2="387.8499999999999" stroke="#222" stroke-width="0.9"/>
<line x1="230.1" y1="385.6199999999999" x2="232.1" y2="385.6199999999999" stroke="#222" stroke-width="0.9"/>
<line x1="230.1" y1="383.3899999999999" x2="232.1" y2="383.3899999999999" stroke="#222" stroke-width="0.9"/>
<line x1="230.1" y1="381.15999999999985" x2="232.1" y2="381.15999999999985" stroke="#222" stroke-width="0.9"/>
<line x1="230.1" y1="378.92999999999984" x2="232.1" y2="378.92999999999984" stroke="#222" stroke-width="0.9"/>
<line x1="230.1" y1="376.6999999999998" x2="232.1" y2="376.6999999999998" stroke="#222" stroke-width="0.9"/>
<line x1="230.1" y1="374.4699999999998" x2="232.1" y2="374.4699999999998" stroke="#222" stroke-width="0.9"/>
<line x1="230.1" y1="372.2399999999998" x2="232.1" y2="372.2399999999998" stroke="#222" stroke-width="0.9"/>
<line x1="230.1" y1="370.00999999999976" x2="232.1" y2="370.00999999999976" stroke="#222" stroke-width="0.9"/>
<line x1="230.1" y1="367.77999999999975" x2="232.1" y2="367.77999999999975" stroke="#222" stroke-width="0.9"/>
<line x1="230.1" y1="365.5499999999997" x2="232.1" y2="365.5499999999997" stroke="#222" stroke-width="0.9"/>
<line x1="230.1" y1="363.3199999999997" x2="232.1" y2="363.3199999999997" stroke="#222" stroke-width="0.9"/>
<line x1="230.1" y1="361.0899999999997" x2="232.1" y2="361.0899999999997" stroke="#222" stroke-width="0.9"/>
<line x1="230.1" y1="358.8599999999997" x2="232.1" y2="358.8599999999997" stroke="#222" stroke-width="0.9"/>
<line x1="230.1" y1="356.62999999999965" x2="232.1" y2="356.62999999999965" stroke="#222" stroke-width="0.9"/>
<line x1="230.1" y1="354.39999999999964" x2="232.1" y2="354.39999999999964" stroke="#222" stroke-width="0.9"/>
<line x1="230.1" y1="352.1699999999996" x2="232.1" y2="352.1699999999996" stroke="#222" stroke-width="0.9"/>
<line x1="230.1" y1="349.9399999999996" x2="232.1" y2="349.9399999999996" stroke="#222" stroke-width="0.9"/>
<line x1="230.1" y1="347.7099999999996" x2="232.1" y2="347.7099999999996" stroke="#222" stroke-width="0.9"/>
<line x1="230.1" y1="345.47999999999956" x2="232.1" y2="345.47999999999956" stroke="#222" stroke-width="0.9"/>
<line x1="230.1" y1="343.24999999999955" x2="232.1" y2="343.24999999999955" stroke="#222" stroke-width="0.9"/>
<line x1="230.1" y1="341.0199999999995" x2="232.1" y2="341.0199999999995" stroke="#222" stroke-width="0.9"/>
<line x1="230.1" y1="338.7899999999995" x2="232.1" y2="338.7899999999995" stroke="#222" stroke-width="0.9"/>
<line x1="230.1" y1="336.5599999999995" x2="232.1" y2="336.5599999999995" stroke="#222" stroke-width="0.9"/>
<line x1="230.1" y1="334.3299999999995" x2="232.1" y2="334.3299999999995" stroke="#222" stroke-width="0.9"/>
<line x1="230.1" y1="332.09999999999945" x2="232.1" y2="332.09999999999945" stroke="#222" stroke-width="0.9"/>
<line x1="230.1" y1="329.86999999999944" x2="232.1" y2="329.86999999999944" stroke="#222" stroke-width="0.9"/>
<line x1="230.1" y1="327.6399999999994" x2="232.1" y2="327.6399999999994" stroke="#222" stroke-width="0.9"/>
<line x1="230.1" y1="325.4099999999994" x2="232.1" y2="325.4099999999994" stroke="#222" stroke-width="0.9"/>
<line x1="230.1" y1="323.1799999999994" x2="232.1" y2="323.1799999999994" stroke="#222" stroke-width="0.9"/>
<line x1="230.1" y1="320.94999999999936" x2="232.1" y2="320.94999999999936" stroke="#222" stroke-width="0.9"/>
<line x1="230.1" y1="318.71999999999935" x2="232.1" y2="318.71999999999935" stroke="#222" stroke-width="0.9"/>
<line x1="230.1" y1="316.4899999999993" x2="232.1" y2="316.4899999999993" stroke="#222" stroke-width="0.9"/>
<line x1="230.1" y1="314.2599999999993" x2="232.1" y2="314.2599999999993" stroke="#222" stroke-width="0.9"/>
<line x1="230.1" y1="312.0299999999993" x2="232.1" y2="312.0299999999993" stroke="#222" stroke-width="0.9"/>
<line x1="230.1" y1="309.7999999999993" x2="232.1" y2="309.7999999999993" stroke="#222" stroke-width="0.9"/>
<line x1="230.1" y1="307.56999999999925" x2="232.1" y2="307.56999999999925" stroke="#222" stroke-width="0.9"/>
<line x1="230.1" y1="305.33999999999924" x2="232.1" y2="305.33999999999924" stroke="#222" stroke-width="0.9"/>
<line x1="230.1" y1="303.1099999999992" x2="232.1" y2="303.1099999999992" stroke="#222" stroke-width="0.9"/>
<line x1="230.1" y1="300.8799999999992" x2="232.1" y2="300.8799999999992" stroke="#222" stroke-width="0.9"/>
<line x1="230.1" y1="298.6499999999992" x2="232.1" y2="298.6499999999992" stroke="#222" stroke-width="0.9"/>
<line x1="230.1" y1="296.41999999999916" x2="232.1" y2="296.41999999999916" stroke="#222" stroke-width="0.9"/>
<line x1="230.1" y1="294.18999999999915" x2="232.1" y2="294.18999999999915" stroke="#222" stroke-width="0.9"/>
<line x1="230.1" y1="291.9599999999991" x2="232.1" y2="291.9599999999991" stroke="#222" stroke-width="0.9"/>
<line x1="230.1" y1="289.7299999999991" x2="232.1" y2="289.7299999999991" stroke="#222" stroke-width="0.9"/>
<line x1="230.1" y1="287.4999999999991" x2="232.1" y2="287.4999999999991" stroke="#222" stroke-width="0.9"/>
<line x1="230.1" y1="285.2699999999991" x2="232.1" y2="285.2699999999991" stroke="#222" stroke-width="0.9"/>
<line x1="230.1" y1="283.03999999999905" x2="232.1" y2="283.03999999999905" stroke="#222" stroke-width="0.9"/>
<line x1="240.97285912219584" y1="399.0" x2="240.97285912219584" y2="401.7" stroke="#1a1a1a" stroke-width="1"/>
<line x1="246.16314898286205" y1="399.0" x2="246.16314898286205" y2="401.7" stroke="#1a1a1a" stroke-width="1"/>
<line x1="249.8457182443917" y1="399.0" x2="249.8457182443917" y2="401.7" stroke="#1a1a1a" stroke-width="1"/>
<line x1="252.70214087780414" y1="399.0" x2="252.70214087780414" y2="401.7" stroke="#1a1a1a" stroke-width="1"/>
<line x1="255.0360081050579" y1="399.0" x2="255.0360081050579" y2="401.7" stroke="#1a1a1a" stroke-width="1"/>
<line x1="257.00926472942024" y1="399.0" x2="257.00926472942024" y2="401.7" stroke="#1a1a1a" stroke-width="1"/>
<line x1="258.7185773665875" y1="399.0" x2="258.7185773665875" y2="401.7" stroke="#1a1a1a" stroke-width="1"/>
<line x1="260.2262979657241" y1="399.0" x2="260.2262979657241" y2="401.7" stroke="#1a1a1a" stroke-width="1"/>
<line x1="261.575" y1="399.0" x2="261.575" y2="403.0" stroke="#111" stroke-width="1.4"/>
<line x1="270.44785912219584" y1="399.0" x2="270.44785912219584" y2="401.7" stroke="#1a1a1a" stroke-width="1"/>
<line x1="275.63814898286205" y1="399.0" x2="275.63814898286205" y2="401.7" stroke="#1a1a1a" stroke-width="1"/>
<line x1="279.3207182443917" y1="399.0" x2="279.3207182443917" y2="401.7" stroke="#1a1a1a" stroke-width="1"/>
<line x1="282.17714087780416" y1="399.0" x2="282.17714087780416" y2="401.7" stroke="#1a1a1a" stroke-width="1"/>
<line x1="284.5110081050579" y1="399.0" x2="284.5110081050579" y2="401.7" stroke="#1a1a1a" stroke-width="1"/>
<line x1="286.4842647294202" y1="399.0" x2="286.4842647294202" y2="401.7" stroke="#1a1a1a" stroke-width="1"/>
<line x1="288.19357736658753" y1="399.0" x2="288.19357736658753" y2="401.7" stroke="#1a1a1a" stroke-width="1"/>
<line x1="289.7012979657241" y1="399.0" x2="289.7012979657241" y2="401.7" stroke="#1a1a1a" stroke-width="1"/>
<line x1="291.05" y1="399.0" x2="291.05" y2="403.0" stroke="#111" stroke-width="1.4"/>
<line x1="299.92285912219586" y1="399.0" x2="299.92285912219586" y2="401.7" stroke="#1a1a1a" stroke-width="1"/>
<line x1="305.11314898286207" y1="399.0" x2="305.11314898286207" y2="401.7" stroke="#1a1a1a" stroke-width="1"/>
<line x1="308.7957182443917" y1="399.0" x2="308.7957182443917" y2="401.7" stroke="#1a1a1a" stroke-width="1"/>
<line x1="311.6521408778042" y1="399.0" x2="311.6521408778042" y2="401.7" stroke="#1a1a1a" stroke-width="1"/>
<line x1="313.9860081050579" y1="399.0" x2="313.9860081050579" y2="401.7" stroke="#1a1a1a" stroke-width="1"/>
<line x1="315.9592647294202" y1="399.0" x2="315.9592647294202" y2="401.7" stroke="#1a1a1a" stroke-width="1"/>
<line x1="317.66857736658756" y1="399.0" x2="317.66857736658756" y2="401.7" stroke="#1a1a1a" stroke-width="1"/>
<line x1="319.1762979657241" y1="399.0" x2="319.1762979657241" y2="401.7" stroke="#1a1a1a" stroke-width="1"/>
<line x1="320.525" y1="399.0" x2="320.525" y2="403.0" stroke="#111" stroke-width="1.4"/>
<line x1="329.3978591221958" y1="399.0" x2="329.3978591221958" y2="401.7" stroke="#1a1a1a" stroke-width="1"/>
<line x1="334.58814898286204" y1="399.0" x2="334.58814898286204" y2="401.7" stroke="#1a1a1a" stroke-width="1"/>
<line x1="338.2707182443917" y1="399.0" x2="338.2707182443917" y2="401.7" stroke="#1a1a1a" stroke-width="1"/>
<line x1="341.12714087780415" y1="399.0" x2="341.12714087780415" y2="401.7" stroke="#1a1a1a" stroke-width="1"/>
<line x1="343.4610081050579" y1="399.0" x2="343.4610081050579" y2="401.7" stroke="#1a1a1a" stroke-width="1"/>
<line x1="345.4342647294202" y1="399.0" x2="345.4342647294202" y2="401.7" stroke="#1a1a1a" stroke-width="1"/>
<line x1="347.1435773665875" y1="399.0" x2="347.1435773665875" y2="401.7" stroke="#1a1a1a" stroke-width="1"/>
<line x1="348.6512979657241" y1="399.0" x2="348.6512979657241" y2="401.7" stroke="#1a1a1a" stroke-width="1"/>
<line x1="349.5" y1="399.0" x2="349.5" y2="403.0" stroke="#111" stroke-width="1.4"/>
<text class="se" font-size="13" x="253.45" y="417.6" textLength="11.6" lengthAdjust="spacingAndGlyphs" style="stroke-width:0.65px">10</text>
<text class="se" font-size="9" x="266.05" y="413.4" style="stroke-width:0.5px">1</text>
<text class="se" font-size="13" x="282.7" y="417.6" textLength="11.6" lengthAdjust="spacingAndGlyphs" style="stroke-width:0.65px">10</text>
<text class="se" font-size="9" x="295.3" y="413.4" style="stroke-width:0.5px">2</text>
<text class="se" font-size="13" x="312.7" y="417.6" textLength="11.6" lengthAdjust="spacingAndGlyphs" style="stroke-width:0.65px">10</text>
<text class="se" font-size="9" x="325.3" y="413.4" style="stroke-width:0.5px">3</text>
<text class="sa" x="258.75" y="437" font-size="15.2" textLength="42.5" lengthAdjust="spacingAndGlyphs">FL1-H</text>
<path d="M400.2,398.2 L400.7,397.8 L401.2,397.3 L401.7,396.6 L402.2,395.8 L402.7,394.6 L403.2,393.2 L403.7,391.3 L404.2,389.0 L404.7,386.2 L405.2,382.8 L405.7,378.8 L406.2,374.2 L406.7,368.9 L407.2,362.9 L407.7,356.3 L408.2,349.3 L408.7,341.8 L409.2,334.1 L409.7,326.3 L410.2,318.7 L410.7,311.5 L411.2,305.0 L411.7,299.3 L412.2,294.6 L412.7,291.3 L413.2,289.3 L413.7,288.7 L414.2,289.6 L414.7,292.0 L415.2,295.7 L415.7,300.5 L416.2,306.4 L416.7,313.0 L417.2,320.3 L417.7,327.8 L418.2,335.5 L418.7,343.1 L419.2,350.5 L419.7,357.4 L420.1,363.8 L420.6,369.6 L421.1,374.8 L421.6,379.3 L422.1,383.2 L422.6,386.5 L423.1,389.2 L423.6,391.5 L424.1,393.3 L424.6,394.7 L425.1,395.8 L425.6,396.7 L426.1,397.3 L426.6,397.8 L427.1,398.2 L427.6,398.4 L427.6,399.0 L400.2,399.0Z" fill="#8c8c8c" stroke="none"/>
<path d="M400.2,398.2 L400.7,397.8 L401.2,397.3 L401.7,396.6 L402.2,395.8 L402.7,394.6 L403.2,393.2 L403.7,391.3 L404.2,389.0 L404.7,386.2 L405.2,382.8 L405.7,378.8 L406.2,374.2 L406.7,368.9 L407.2,362.9 L407.7,356.3 L408.2,349.3 L408.7,341.8 L409.2,334.1 L409.7,326.3 L410.2,318.7 L410.7,311.5 L411.2,305.0 L411.7,299.3 L412.2,294.6 L412.7,291.3 L413.2,289.3 L413.7,288.7 L414.2,289.6 L414.7,292.0 L415.2,295.7 L415.7,300.5 L416.2,306.4 L416.7,313.0 L417.2,320.3 L417.7,327.8 L418.2,335.5 L418.7,343.1 L419.2,350.5 L419.7,357.4 L420.1,363.8 L420.6,369.6 L421.1,374.8 L421.6,379.3 L422.1,383.2 L422.6,386.5 L423.1,389.2 L423.6,391.5 L424.1,393.3 L424.6,394.7 L425.1,395.8 L425.6,396.7 L426.1,397.3 L426.6,397.8 L427.1,398.2 L427.6,398.4" fill="none" stroke="#111" stroke-width="1.7" stroke-linejoin="round"/>
<path d="M420.7,394.5 L421.2,392.8 L421.7,390.5 L422.2,387.6 L422.7,384.0 L423.2,379.6 L423.7,374.4 L424.2,368.3 L424.7,361.3 L425.2,353.6 L425.7,345.2 L426.2,336.5 L426.7,327.6 L427.2,318.9 L427.7,310.6 L428.2,303.3 L428.7,297.2 L429.2,292.5 L429.7,289.7 L430.2,288.7 L430.7,289.7 L431.2,292.5 L431.7,297.2 L432.2,303.3 L432.7,310.6 L433.2,318.9 L433.7,327.6 L434.2,336.5 L434.7,345.2 L435.2,353.6 L435.7,361.3 L436.2,368.3 L436.7,374.4 L437.2,379.6 L437.7,384.0 L438.2,387.6 L438.7,390.5 L439.2,392.8 L439.7,394.5" fill="none" stroke="#111" stroke-width="1.6" stroke-dasharray="1.6,1.8"/>
<path d="M440.2,399.0 L440.7,398.7 L441.2,398.2 L441.7,397.6 L442.2,396.8 L442.6,395.7 L443.1,394.3 L443.6,392.6 L444.1,390.5 L444.6,388.0 L445.1,384.6 L445.6,380.5 L446.1,376.1 L446.6,371.6 L447.1,366.9 L447.6,361.9 L448.1,356.9 L448.6,351.8 L449.1,346.7 L449.6,341.7 L450.1,336.6 L450.6,331.5 L451.1,326.4 L451.6,321.3 L452.1,316.2 L452.6,311.2 L453.1,306.2 L453.6,301.1 L454.1,296.3 L454.6,291.9 L455.1,289.2 L455.6,291.5 L456.1,293.5 L456.6,295.1 L457.1,296.5 L457.6,298.1 L458.1,300.2 L458.6,303.0 L459.1,306.5 L459.6,310.2 L460.1,314.1 L460.6,318.5 L461.1,323.2 L461.6,328.1 L462.1,332.9 L462.6,337.6 L463.1,341.9 L463.6,345.8 L464.1,349.5 L464.6,353.1 L465.0,356.6 L465.5,360.0 L466.0,363.2 L466.5,366.4 L467.0,369.5 L467.5,372.6 L468.0,375.5 L468.5,378.4 L469.0,381.4 L469.5,384.1 L470.0,386.6 L470.5,388.6 L471.0,390.3 L471.5,391.8 L472.0,393.1 L472.5,394.2 L473.0,395.2 L473.5,396.1 L474.0,396.8 L474.5,397.3 L475.0,397.8 L475.5,398.2 L476.0,398.6 L476.5,398.9 L477.0,399.0" fill="none" stroke="#111" stroke-width="1.7" stroke-linejoin="round"/>
<line x1="399.4" y1="281" x2="399.4" y2="399.8" stroke="#111" stroke-width="1.6"/>
<line x1="398.4" y1="399.0" x2="515" y2="399.0" stroke="#111" stroke-width="1.7"/>
<line x1="395.2" y1="287.4" x2="399.4" y2="287.4" stroke="#111" stroke-width="1.3"/>
<text class="se" x="396.0" y="291.4" font-size="13" text-anchor="end" textLength="18.9" lengthAdjust="spacingAndGlyphs" style="stroke-width:0.45px">100</text>
<line x1="395.2" y1="309.54999999999995" x2="399.4" y2="309.54999999999995" stroke="#111" stroke-width="1.3"/>
<text class="se" x="396.0" y="313.54999999999995" font-size="13" text-anchor="end" textLength="13.3" lengthAdjust="spacingAndGlyphs" style="stroke-width:0.45px">80</text>
<line x1="395.2" y1="331.7" x2="399.4" y2="331.7" stroke="#111" stroke-width="1.3"/>
<text class="se" x="396.0" y="335.7" font-size="13" text-anchor="end" textLength="13.3" lengthAdjust="spacingAndGlyphs" style="stroke-width:0.45px">60</text>
<line x1="395.2" y1="353.84999999999997" x2="399.4" y2="353.84999999999997" stroke="#111" stroke-width="1.3"/>
<text class="se" x="396.0" y="357.84999999999997" font-size="13" text-anchor="end" textLength="13.3" lengthAdjust="spacingAndGlyphs" style="stroke-width:0.45px">40</text>
<line x1="395.2" y1="376.0" x2="399.4" y2="376.0" stroke="#111" stroke-width="1.3"/>
<text class="se" x="396.0" y="380.0" font-size="13" text-anchor="end" textLength="13.3" lengthAdjust="spacingAndGlyphs" style="stroke-width:0.45px">20</text>
<line x1="397.4" y1="396.77" x2="399.4" y2="396.77" stroke="#222" stroke-width="0.9"/>
<line x1="397.4" y1="394.53999999999996" x2="399.4" y2="394.53999999999996" stroke="#222" stroke-width="0.9"/>
<line x1="397.4" y1="392.30999999999995" x2="399.4" y2="392.30999999999995" stroke="#222" stroke-width="0.9"/>
<line x1="397.4" y1="390.0799999999999" x2="399.4" y2="390.0799999999999" stroke="#222" stroke-width="0.9"/>
<line x1="397.4" y1="387.8499999999999" x2="399.4" y2="387.8499999999999" stroke="#222" stroke-width="0.9"/>
<line x1="397.4" y1="385.6199999999999" x2="399.4" y2="385.6199999999999" stroke="#222" stroke-width="0.9"/>
<line x1="397.4" y1="383.3899999999999" x2="399.4" y2="383.3899999999999" stroke="#222" stroke-width="0.9"/>
<line x1="397.4" y1="381.15999999999985" x2="399.4" y2="381.15999999999985" stroke="#222" stroke-width="0.9"/>
<line x1="397.4" y1="378.92999999999984" x2="399.4" y2="378.92999999999984" stroke="#222" stroke-width="0.9"/>
<line x1="397.4" y1="376.6999999999998" x2="399.4" y2="376.6999999999998" stroke="#222" stroke-width="0.9"/>
<line x1="397.4" y1="374.4699999999998" x2="399.4" y2="374.4699999999998" stroke="#222" stroke-width="0.9"/>
<line x1="397.4" y1="372.2399999999998" x2="399.4" y2="372.2399999999998" stroke="#222" stroke-width="0.9"/>
<line x1="397.4" y1="370.00999999999976" x2="399.4" y2="370.00999999999976" stroke="#222" stroke-width="0.9"/>
<line x1="397.4" y1="367.77999999999975" x2="399.4" y2="367.77999999999975" stroke="#222" stroke-width="0.9"/>
<line x1="397.4" y1="365.5499999999997" x2="399.4" y2="365.5499999999997" stroke="#222" stroke-width="0.9"/>
<line x1="397.4" y1="363.3199999999997" x2="399.4" y2="363.3199999999997" stroke="#222" stroke-width="0.9"/>
<line x1="397.4" y1="361.0899999999997" x2="399.4" y2="361.0899999999997" stroke="#222" stroke-width="0.9"/>
<line x1="397.4" y1="358.8599999999997" x2="399.4" y2="358.8599999999997" stroke="#222" stroke-width="0.9"/>
<line x1="397.4" y1="356.62999999999965" x2="399.4" y2="356.62999999999965" stroke="#222" stroke-width="0.9"/>
<line x1="397.4" y1="354.39999999999964" x2="399.4" y2="354.39999999999964" stroke="#222" stroke-width="0.9"/>
<line x1="397.4" y1="352.1699999999996" x2="399.4" y2="352.1699999999996" stroke="#222" stroke-width="0.9"/>
<line x1="397.4" y1="349.9399999999996" x2="399.4" y2="349.9399999999996" stroke="#222" stroke-width="0.9"/>
<line x1="397.4" y1="347.7099999999996" x2="399.4" y2="347.7099999999996" stroke="#222" stroke-width="0.9"/>
<line x1="397.4" y1="345.47999999999956" x2="399.4" y2="345.47999999999956" stroke="#222" stroke-width="0.9"/>
<line x1="397.4" y1="343.24999999999955" x2="399.4" y2="343.24999999999955" stroke="#222" stroke-width="0.9"/>
<line x1="397.4" y1="341.0199999999995" x2="399.4" y2="341.0199999999995" stroke="#222" stroke-width="0.9"/>
<line x1="397.4" y1="338.7899999999995" x2="399.4" y2="338.7899999999995" stroke="#222" stroke-width="0.9"/>
<line x1="397.4" y1="336.5599999999995" x2="399.4" y2="336.5599999999995" stroke="#222" stroke-width="0.9"/>
<line x1="397.4" y1="334.3299999999995" x2="399.4" y2="334.3299999999995" stroke="#222" stroke-width="0.9"/>
<line x1="397.4" y1="332.09999999999945" x2="399.4" y2="332.09999999999945" stroke="#222" stroke-width="0.9"/>
<line x1="397.4" y1="329.86999999999944" x2="399.4" y2="329.86999999999944" stroke="#222" stroke-width="0.9"/>
<line x1="397.4" y1="327.6399999999994" x2="399.4" y2="327.6399999999994" stroke="#222" stroke-width="0.9"/>
<line x1="397.4" y1="325.4099999999994" x2="399.4" y2="325.4099999999994" stroke="#222" stroke-width="0.9"/>
<line x1="397.4" y1="323.1799999999994" x2="399.4" y2="323.1799999999994" stroke="#222" stroke-width="0.9"/>
<line x1="397.4" y1="320.94999999999936" x2="399.4" y2="320.94999999999936" stroke="#222" stroke-width="0.9"/>
<line x1="397.4" y1="318.71999999999935" x2="399.4" y2="318.71999999999935" stroke="#222" stroke-width="0.9"/>
<line x1="397.4" y1="316.4899999999993" x2="399.4" y2="316.4899999999993" stroke="#222" stroke-width="0.9"/>
<line x1="397.4" y1="314.2599999999993" x2="399.4" y2="314.2599999999993" stroke="#222" stroke-width="0.9"/>
<line x1="397.4" y1="312.0299999999993" x2="399.4" y2="312.0299999999993" stroke="#222" stroke-width="0.9"/>
<line x1="397.4" y1="309.7999999999993" x2="399.4" y2="309.7999999999993" stroke="#222" stroke-width="0.9"/>
<line x1="397.4" y1="307.56999999999925" x2="399.4" y2="307.56999999999925" stroke="#222" stroke-width="0.9"/>
<line x1="397.4" y1="305.33999999999924" x2="399.4" y2="305.33999999999924" stroke="#222" stroke-width="0.9"/>
<line x1="397.4" y1="303.1099999999992" x2="399.4" y2="303.1099999999992" stroke="#222" stroke-width="0.9"/>
<line x1="397.4" y1="300.8799999999992" x2="399.4" y2="300.8799999999992" stroke="#222" stroke-width="0.9"/>
<line x1="397.4" y1="298.6499999999992" x2="399.4" y2="298.6499999999992" stroke="#222" stroke-width="0.9"/>
<line x1="397.4" y1="296.41999999999916" x2="399.4" y2="296.41999999999916" stroke="#222" stroke-width="0.9"/>
<line x1="397.4" y1="294.18999999999915" x2="399.4" y2="294.18999999999915" stroke="#222" stroke-width="0.9"/>
<line x1="397.4" y1="291.9599999999991" x2="399.4" y2="291.9599999999991" stroke="#222" stroke-width="0.9"/>
<line x1="397.4" y1="289.7299999999991" x2="399.4" y2="289.7299999999991" stroke="#222" stroke-width="0.9"/>
<line x1="397.4" y1="287.4999999999991" x2="399.4" y2="287.4999999999991" stroke="#222" stroke-width="0.9"/>
<line x1="397.4" y1="285.2699999999991" x2="399.4" y2="285.2699999999991" stroke="#222" stroke-width="0.9"/>
<line x1="397.4" y1="283.03999999999905" x2="399.4" y2="283.03999999999905" stroke="#222" stroke-width="0.9"/>
<line x1="408.099766874689" y1="399.0" x2="408.099766874689" y2="401.7" stroke="#1a1a1a" stroke-width="1"/>
<line x1="413.1888042613982" y1="399.0" x2="413.1888042613982" y2="401.7" stroke="#1a1a1a" stroke-width="1"/>
<line x1="416.7995337493781" y1="399.0" x2="416.7995337493781" y2="401.7" stroke="#1a1a1a" stroke-width="1"/>
<line x1="419.6002331253109" y1="399.0" x2="419.6002331253109" y2="401.7" stroke="#1a1a1a" stroke-width="1"/>
<line x1="421.8885711360873" y1="399.0" x2="421.8885711360873" y2="401.7" stroke="#1a1a1a" stroke-width="1"/>
<line x1="423.823333356412" y1="399.0" x2="423.823333356412" y2="401.7" stroke="#1a1a1a" stroke-width="1"/>
<line x1="425.49930062406713" y1="399.0" x2="425.49930062406713" y2="401.7" stroke="#1a1a1a" stroke-width="1"/>
<line x1="426.97760852279646" y1="399.0" x2="426.97760852279646" y2="401.7" stroke="#1a1a1a" stroke-width="1"/>
<line x1="428.29999999999995" y1="399.0" x2="428.29999999999995" y2="403.0" stroke="#111" stroke-width="1.4"/>
<line x1="436.99976687468904" y1="399.0" x2="436.99976687468904" y2="401.7" stroke="#1a1a1a" stroke-width="1"/>
<line x1="442.08880426139825" y1="399.0" x2="442.08880426139825" y2="401.7" stroke="#1a1a1a" stroke-width="1"/>
<line x1="445.69953374937813" y1="399.0" x2="445.69953374937813" y2="401.7" stroke="#1a1a1a" stroke-width="1"/>
<line x1="448.50023312531096" y1="399.0" x2="448.50023312531096" y2="401.7" stroke="#1a1a1a" stroke-width="1"/>
<line x1="450.7885711360873" y1="399.0" x2="450.7885711360873" y2="401.7" stroke="#1a1a1a" stroke-width="1"/>
<line x1="452.723333356412" y1="399.0" x2="452.723333356412" y2="401.7" stroke="#1a1a1a" stroke-width="1"/>
<line x1="454.39930062406717" y1="399.0" x2="454.39930062406717" y2="401.7" stroke="#1a1a1a" stroke-width="1"/>
<line x1="455.8776085227965" y1="399.0" x2="455.8776085227965" y2="401.7" stroke="#1a1a1a" stroke-width="1"/>
<line x1="457.2" y1="399.0" x2="457.2" y2="403.0" stroke="#111" stroke-width="1.4"/>
<line x1="465.899766874689" y1="399.0" x2="465.899766874689" y2="401.7" stroke="#1a1a1a" stroke-width="1"/>
<line x1="470.98880426139823" y1="399.0" x2="470.98880426139823" y2="401.7" stroke="#1a1a1a" stroke-width="1"/>
<line x1="474.5995337493781" y1="399.0" x2="474.5995337493781" y2="401.7" stroke="#1a1a1a" stroke-width="1"/>
<line x1="477.40023312531093" y1="399.0" x2="477.40023312531093" y2="401.7" stroke="#1a1a1a" stroke-width="1"/>
<line x1="479.6885711360873" y1="399.0" x2="479.6885711360873" y2="401.7" stroke="#1a1a1a" stroke-width="1"/>
<line x1="481.623333356412" y1="399.0" x2="481.623333356412" y2="401.7" stroke="#1a1a1a" stroke-width="1"/>
<line x1="483.2993006240672" y1="399.0" x2="483.2993006240672" y2="401.7" stroke="#1a1a1a" stroke-width="1"/>
<line x1="484.77760852279647" y1="399.0" x2="484.77760852279647" y2="401.7" stroke="#1a1a1a" stroke-width="1"/>
<line x1="486.1" y1="399.0" x2="486.1" y2="403.0" stroke="#111" stroke-width="1.4"/>
<line x1="494.79976687468906" y1="399.0" x2="494.79976687468906" y2="401.7" stroke="#1a1a1a" stroke-width="1"/>
<line x1="499.88880426139826" y1="399.0" x2="499.88880426139826" y2="401.7" stroke="#1a1a1a" stroke-width="1"/>
<line x1="503.4995337493781" y1="399.0" x2="503.4995337493781" y2="401.7" stroke="#1a1a1a" stroke-width="1"/>
<line x1="506.3002331253109" y1="399.0" x2="506.3002331253109" y2="401.7" stroke="#1a1a1a" stroke-width="1"/>
<line x1="508.5885711360873" y1="399.0" x2="508.5885711360873" y2="401.7" stroke="#1a1a1a" stroke-width="1"/>
<line x1="510.523333356412" y1="399.0" x2="510.523333356412" y2="401.7" stroke="#1a1a1a" stroke-width="1"/>
<line x1="512.1993006240672" y1="399.0" x2="512.1993006240672" y2="401.7" stroke="#1a1a1a" stroke-width="1"/>
<line x1="513.6776085227965" y1="399.0" x2="513.6776085227965" y2="401.7" stroke="#1a1a1a" stroke-width="1"/>
<line x1="514.5" y1="399.0" x2="514.5" y2="403.0" stroke="#111" stroke-width="1.4"/>
<text class="se" font-size="13" x="419.7" y="417.6" textLength="11.6" lengthAdjust="spacingAndGlyphs" style="stroke-width:0.65px">10</text>
<text class="se" font-size="9" x="432.3" y="413.4" style="stroke-width:0.5px">1</text>
<text class="se" font-size="13" x="449.2" y="417.6" textLength="11.6" lengthAdjust="spacingAndGlyphs" style="stroke-width:0.65px">10</text>
<text class="se" font-size="9" x="463.40000000000003" y="413.4" style="stroke-width:0.5px">2</text>
<text class="se" font-size="13" x="479.2" y="417.6" textLength="11.6" lengthAdjust="spacingAndGlyphs" style="stroke-width:0.65px">10</text>
<text class="se" font-size="9" x="491.8" y="413.4" style="stroke-width:0.5px">3</text>
<text class="sa" x="426.3" y="437" font-size="15.2" textLength="42.5" lengthAdjust="spacingAndGlyphs">FL1-H</text>
<text class="sa" x="68.8" y="264" font-size="15.4" textLength="87" lengthAdjust="spacingAndGlyphs">606HS2-neo</text>
<text class="sa" x="226.25" y="264" font-size="15.4" textLength="77.5" lengthAdjust="spacingAndGlyphs">606HS2-Ez</text>
<text class="sa" x="304.6" y="259.6" font-size="10.8" textLength="29.6" lengthAdjust="spacingAndGlyphs">Y145F</text>
<text class="sa" x="401" y="264" font-size="15.4" textLength="79" lengthAdjust="spacingAndGlyphs">606HS2-Ez</text>
<text class="sa" x="480.2" y="259.6" font-size="10.8" textLength="14" lengthAdjust="spacingAndGlyphs">Wt</text>
<text class="sa" font-size="15" text-anchor="middle" textLength="69" lengthAdjust="spacingAndGlyphs" transform="translate(12.3,379.5) rotate(-90)">% of cells</text>
<line x1="19.5" y1="445.9" x2="19.5" y2="356" stroke="#111" stroke-width="1.1"/>
<path d="M15.3,357.5 L19.5,348.5 L23.7,357.5 Z" fill="#111"/>
<line x1="19" y1="445.6" x2="110" y2="445.6" stroke="#111" stroke-width="1.1"/>
<path d="M108.7,441.5 L117.3,445.6 L108.7,449.7 Z" fill="#111"/>
<text class="sa" x="16.2" y="463.6" font-size="15.2" textLength="255.3" lengthAdjust="spacingAndGlyphs">P-Akt fluorescence (Log Alexa488)</text>
<rect x="367.1" y="448.1" width="150.8" height="53" rx="1" fill="#fff" stroke="#222" stroke-width="1.4"/>
<rect x="368.5" y="449.5" width="148" height="50.2" fill="none" stroke="#aaa" stroke-width="0.9"/>
<line x1="372.3" y1="461.3" x2="405.3" y2="461.3" stroke="#111" stroke-width="2.2"/>
<line x1="372.5" y1="477.6" x2="404" y2="477.6" stroke="#111" stroke-width="2" stroke-dasharray="2,2.8"/>
<rect x="372.6" y="488.8" width="33.4" height="6.6" fill="#7c7c7c" stroke="#2a2a2a" stroke-width="1"/>
<text class="sa" x="430.2" y="465.8" font-size="16" textLength="80.6" lengthAdjust="spacingAndGlyphs">- LY294002</text>
<text class="sa" x="425.6" y="481.7" font-size="16" textLength="85.2" lengthAdjust="spacingAndGlyphs">+ LY294002</text>
<text class="sa" x="434.4" y="496.9" font-size="16" textLength="52" lengthAdjust="spacingAndGlyphs">control</text>
<text class="sa" x="211" y="546.5" font-size="15.8" textLength="60.6" lengthAdjust="spacingAndGlyphs">606HS2-</text>
<line x1="179.7" y1="550.4" x2="302.8" y2="550.4" stroke="#333" stroke-width="1.2"/>
<text class="sa" x="183.2" y="568.8" font-size="16" textLength="26.8" lengthAdjust="spacingAndGlyphs">neo</text>
<text class="sa" x="221.3" y="568.8" font-size="16" textLength="17" lengthAdjust="spacingAndGlyphs">Ez</text>
<text class="sa" x="239" y="563.6" font-size="11" textLength="29.6" lengthAdjust="spacingAndGlyphs">Y145F</text>
<text class="sa" x="275.1" y="568.8" font-size="16" textLength="17" lengthAdjust="spacingAndGlyphs">Ez</text>
<text class="sa" x="293.2" y="563.6" font-size="11" textLength="13" lengthAdjust="spacingAndGlyphs">Wt</text>
<text class="sa" x="311.3" y="593.6" font-size="15" textLength="60.7" lengthAdjust="spacingAndGlyphs">P-Erk1/2</text>
<text class="sa" x="311.3" y="625.1" font-size="15" textLength="45.3" lengthAdjust="spacingAndGlyphs">Erk1/2</text>
<rect x="181.3" y="577.5" width="117.8" height="23.4" fill="#fafafa" stroke="#1a1a1a" stroke-width="1.3"/>
<rect x="181.3" y="609.4" width="117.8" height="20.8" fill="#e2e2e2" stroke="#1a1a1a" stroke-width="1.3"/>
<rect x="181" y="630.9" width="118.4" height="1.1" fill="#9a9a9a"/>
<rect x="185.5" y="583.4" width="27.0" height="2.5" rx="1.2" fill="#2c2c2c" filter="url(#bl)"/>
<rect x="184.5" y="589.3" width="31.0" height="4.2" rx="2.1" fill="#050505" filter="url(#bl)"/>
<rect x="227" y="590.4" width="25.5" height="1.9" rx="0.9" fill="#777" filter="url(#bl)"/>
<rect x="267.5" y="584.2" width="24.5" height="1.8" rx="0.9" fill="#7a7a7a" filter="url(#bl)"/>
<rect x="266.3" y="590" width="27.5" height="3.6" rx="1.8" fill="#121212" filter="url(#bl)"/>
<rect x="186" y="614" width="28.2" height="8.0" rx="4.0" fill="#6a6a6a" filter="url(#bl2)"/>
<rect x="184" y="611.8" width="32.2" height="5.6" rx="2.8" fill="#030303" filter="url(#bl)"/>
<rect x="184" y="619.1" width="32.2" height="5.9" rx="2.9" fill="#030303" filter="url(#bl)"/>
<rect x="225" y="614" width="28.8" height="8.0" rx="4.0" fill="#6a6a6a" filter="url(#bl2)"/>
<rect x="223" y="611.8" width="32.8" height="5.6" rx="2.8" fill="#030303" filter="url(#bl)"/>
<rect x="223" y="619.1" width="32.8" height="5.9" rx="2.9" fill="#030303" filter="url(#bl)"/>
<rect x="266.3" y="614" width="26.5" height="8.0" rx="4.0" fill="#6a6a6a" filter="url(#bl2)"/>
<rect x="264.3" y="611.8" width="30.5" height="5.6" rx="2.8" fill="#030303" filter="url(#bl)"/>
<rect x="264.3" y="619.1" width="30.5" height="5.9" rx="2.9" fill="#030303" filter="url(#bl)"/>
</svg>
</body></html>
